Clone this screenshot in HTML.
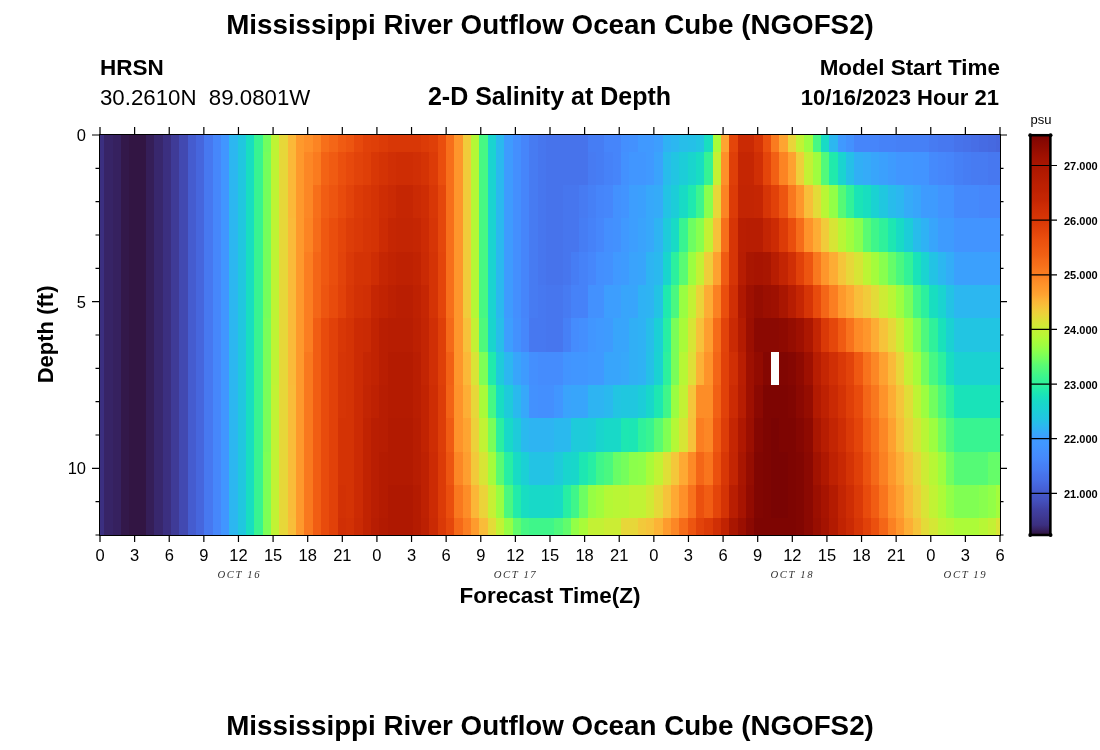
<!DOCTYPE html>
<html><head><meta charset="utf-8"><style>
html,body{margin:0;padding:0;background:#fff;}
svg{display:block;will-change:transform;}
text{font-family:"Liberation Sans",sans-serif;fill:#000;}
.b{font-weight:bold;}
.tl{font-size:16.5px;}
.cbl{font-size:11px;font-weight:bold;}
.dt{font-family:"Liberation Serif",serif;font-style:italic;font-size:10.7px;fill:#333;letter-spacing:1.6px;}
</style></head><body>
<svg width="1100" height="750" viewBox="0 0 1100 750">
<defs><clipPath id="cp"><rect x="100" y="135" width="900" height="400"/></clipPath></defs>
<g clip-path="url(#cp)"><g shape-rendering="crispEdges">
<rect x="100.00" y="135.00" width="4.57" height="17.07" fill="#3b2f80"/>
<rect x="104.17" y="135.00" width="8.73" height="17.07" fill="#372466"/>
<rect x="112.50" y="135.00" width="8.73" height="17.07" fill="#36215f"/>
<rect x="120.83" y="135.00" width="8.73" height="17.07" fill="#33184a"/>
<rect x="129.17" y="135.00" width="17.07" height="17.07" fill="#321543"/>
<rect x="145.83" y="135.00" width="8.73" height="17.07" fill="#351e58"/>
<rect x="154.17" y="135.00" width="8.73" height="17.07" fill="#38276d"/>
<rect x="162.50" y="135.00" width="8.73" height="17.07" fill="#3b2f80"/>
<rect x="170.83" y="135.00" width="8.73" height="17.07" fill="#3f3b97"/>
<rect x="179.17" y="135.00" width="8.73" height="17.07" fill="#4249b1"/>
<rect x="187.50" y="135.00" width="8.73" height="17.07" fill="#455ccf"/>
<rect x="195.83" y="135.00" width="8.73" height="17.07" fill="#4666dd"/>
<rect x="204.17" y="135.00" width="8.73" height="17.07" fill="#4778f0"/>
<rect x="212.50" y="135.00" width="8.73" height="17.07" fill="#4687fb"/>
<rect x="220.83" y="135.00" width="8.73" height="17.07" fill="#4196ff"/>
<rect x="229.17" y="135.00" width="8.73" height="17.07" fill="#2cb7f0"/>
<rect x="237.50" y="135.00" width="8.73" height="17.07" fill="#20c7df"/>
<rect x="245.83" y="135.00" width="8.73" height="17.07" fill="#18dec0"/>
<rect x="254.17" y="135.00" width="8.73" height="17.07" fill="#38f491"/>
<rect x="262.50" y="135.00" width="8.73" height="17.07" fill="#71fe5f"/>
<rect x="270.83" y="135.00" width="8.73" height="17.07" fill="#bef434"/>
<rect x="279.17" y="135.00" width="8.73" height="17.07" fill="#e7d739"/>
<rect x="287.50" y="135.00" width="8.73" height="17.07" fill="#fbb838"/>
<rect x="295.83" y="135.00" width="8.73" height="17.07" fill="#fe992c"/>
<rect x="304.17" y="135.00" width="8.73" height="17.07" fill="#fe9029"/>
<rect x="312.50" y="135.00" width="8.73" height="17.07" fill="#fc8423"/>
<rect x="320.83" y="135.00" width="8.73" height="17.07" fill="#f76f1a"/>
<rect x="329.17" y="135.00" width="8.73" height="17.07" fill="#f46617"/>
<rect x="337.50" y="135.00" width="8.73" height="17.07" fill="#f05b12"/>
<rect x="345.83" y="135.00" width="8.73" height="17.07" fill="#ed5510"/>
<rect x="354.17" y="135.00" width="8.73" height="17.07" fill="#e7490c"/>
<rect x="362.50" y="135.00" width="8.73" height="17.07" fill="#e14109"/>
<rect x="370.83" y="135.00" width="8.73" height="17.07" fill="#df3f08"/>
<rect x="379.17" y="135.00" width="8.73" height="17.07" fill="#dc3b07"/>
<rect x="387.50" y="135.00" width="33.73" height="17.07" fill="#d83706"/>
<rect x="420.83" y="135.00" width="8.73" height="17.07" fill="#dc3b07"/>
<rect x="429.17" y="135.00" width="8.73" height="17.07" fill="#df3f08"/>
<rect x="437.50" y="135.00" width="8.73" height="17.07" fill="#ea4e0d"/>
<rect x="445.83" y="135.00" width="8.73" height="17.07" fill="#f76f1a"/>
<rect x="454.17" y="135.00" width="8.73" height="17.07" fill="#fe962b"/>
<rect x="462.50" y="135.00" width="8.73" height="17.07" fill="#f1cb3a"/>
<rect x="470.83" y="135.00" width="8.73" height="17.07" fill="#b4f836"/>
<rect x="479.17" y="135.00" width="8.73" height="17.07" fill="#46f884"/>
<rect x="487.50" y="135.00" width="8.73" height="17.07" fill="#1ad4d0"/>
<rect x="495.83" y="135.00" width="8.73" height="17.07" fill="#2ab9ee"/>
<rect x="504.17" y="135.00" width="8.73" height="17.07" fill="#3e9bfe"/>
<rect x="512.50" y="135.00" width="8.73" height="17.07" fill="#448ffe"/>
<rect x="520.83" y="135.00" width="8.73" height="17.07" fill="#4685fa"/>
<rect x="529.17" y="135.00" width="8.73" height="17.07" fill="#477bf2"/>
<rect x="537.50" y="135.00" width="8.73" height="17.07" fill="#4776ee"/>
<rect x="545.83" y="135.00" width="42.07" height="17.07" fill="#4773eb"/>
<rect x="587.50" y="135.00" width="17.07" height="17.07" fill="#467df4"/>
<rect x="604.17" y="135.00" width="17.07" height="17.07" fill="#4685fa"/>
<rect x="620.83" y="135.00" width="8.73" height="17.07" fill="#448ffe"/>
<rect x="629.17" y="135.00" width="8.73" height="17.07" fill="#4391fe"/>
<rect x="637.50" y="135.00" width="17.07" height="17.07" fill="#4099ff"/>
<rect x="654.17" y="135.00" width="8.73" height="17.07" fill="#3d9efe"/>
<rect x="662.50" y="135.00" width="8.73" height="17.07" fill="#2fb2f4"/>
<rect x="670.83" y="135.00" width="8.73" height="17.07" fill="#2cb7f0"/>
<rect x="679.17" y="135.00" width="8.73" height="17.07" fill="#27bee9"/>
<rect x="687.50" y="135.00" width="8.73" height="17.07" fill="#25c0e7"/>
<rect x="695.83" y="135.00" width="8.73" height="17.07" fill="#22c5e2"/>
<rect x="704.17" y="135.00" width="8.73" height="17.07" fill="#18dec0"/>
<rect x="712.50" y="135.00" width="8.73" height="17.07" fill="#a7fc3a"/>
<rect x="720.83" y="135.00" width="8.73" height="17.07" fill="#fea431"/>
<rect x="729.17" y="135.00" width="8.73" height="17.07" fill="#e4450a"/>
<rect x="737.50" y="135.00" width="17.07" height="17.07" fill="#ca2a04"/>
<rect x="754.17" y="135.00" width="8.73" height="17.07" fill="#d63506"/>
<rect x="762.50" y="135.00" width="8.73" height="17.07" fill="#eb500e"/>
<rect x="770.83" y="135.00" width="8.73" height="17.07" fill="#fa7b1f"/>
<rect x="779.17" y="135.00" width="8.73" height="17.07" fill="#fea431"/>
<rect x="787.50" y="135.00" width="8.73" height="17.07" fill="#e9d539"/>
<rect x="795.83" y="135.00" width="8.73" height="17.07" fill="#c1f334"/>
<rect x="804.17" y="135.00" width="8.73" height="17.07" fill="#9cfe40"/>
<rect x="812.50" y="135.00" width="8.73" height="17.07" fill="#46f884"/>
<rect x="820.83" y="135.00" width="8.73" height="17.07" fill="#18dbc5"/>
<rect x="829.17" y="135.00" width="8.73" height="17.07" fill="#2cb7f0"/>
<rect x="837.50" y="135.00" width="8.73" height="17.07" fill="#4099ff"/>
<rect x="845.83" y="135.00" width="8.73" height="17.07" fill="#4391fe"/>
<rect x="854.17" y="135.00" width="25.40" height="17.07" fill="#4685fa"/>
<rect x="879.17" y="135.00" width="17.07" height="17.07" fill="#4682f8"/>
<rect x="895.83" y="135.00" width="33.73" height="17.07" fill="#4680f6"/>
<rect x="929.17" y="135.00" width="8.73" height="17.07" fill="#477bf2"/>
<rect x="937.50" y="135.00" width="17.07" height="17.07" fill="#4778f0"/>
<rect x="954.17" y="135.00" width="8.73" height="17.07" fill="#4773eb"/>
<rect x="962.50" y="135.00" width="8.73" height="17.07" fill="#4771e9"/>
<rect x="970.83" y="135.00" width="8.73" height="17.07" fill="#476ee6"/>
<rect x="979.17" y="135.00" width="8.73" height="17.07" fill="#466be3"/>
<rect x="987.50" y="135.00" width="8.73" height="17.07" fill="#4669e0"/>
<rect x="995.83" y="135.00" width="4.17" height="17.07" fill="#4666dd"/>
<rect x="100.00" y="151.67" width="4.57" height="33.73" fill="#3b2f80"/>
<rect x="104.17" y="151.67" width="8.73" height="33.73" fill="#372466"/>
<rect x="112.50" y="151.67" width="8.73" height="33.73" fill="#36215f"/>
<rect x="120.83" y="151.67" width="8.73" height="33.73" fill="#33184a"/>
<rect x="129.17" y="151.67" width="17.07" height="33.73" fill="#321543"/>
<rect x="145.83" y="151.67" width="8.73" height="33.73" fill="#351e58"/>
<rect x="154.17" y="151.67" width="8.73" height="33.73" fill="#38276d"/>
<rect x="162.50" y="151.67" width="8.73" height="33.73" fill="#3b2f80"/>
<rect x="170.83" y="151.67" width="8.73" height="33.73" fill="#3f3b97"/>
<rect x="179.17" y="151.67" width="8.73" height="33.73" fill="#4249b1"/>
<rect x="187.50" y="151.67" width="8.73" height="33.73" fill="#455ccf"/>
<rect x="195.83" y="151.67" width="8.73" height="33.73" fill="#4666dd"/>
<rect x="204.17" y="151.67" width="8.73" height="33.73" fill="#4778f0"/>
<rect x="212.50" y="151.67" width="8.73" height="33.73" fill="#4687fb"/>
<rect x="220.83" y="151.67" width="8.73" height="33.73" fill="#4196ff"/>
<rect x="229.17" y="151.67" width="8.73" height="33.73" fill="#2cb7f0"/>
<rect x="237.50" y="151.67" width="8.73" height="33.73" fill="#20c7df"/>
<rect x="245.83" y="151.67" width="8.73" height="33.73" fill="#18dec0"/>
<rect x="254.17" y="151.67" width="8.73" height="33.73" fill="#38f491"/>
<rect x="262.50" y="151.67" width="8.73" height="33.73" fill="#75fe5c"/>
<rect x="270.83" y="151.67" width="8.73" height="33.73" fill="#bef434"/>
<rect x="279.17" y="151.67" width="8.73" height="33.73" fill="#e7d739"/>
<rect x="287.50" y="151.67" width="8.73" height="33.73" fill="#fbb838"/>
<rect x="295.83" y="151.67" width="8.73" height="33.73" fill="#fe992c"/>
<rect x="304.17" y="151.67" width="8.73" height="33.73" fill="#fc8725"/>
<rect x="312.50" y="151.67" width="8.73" height="33.73" fill="#fa7b1f"/>
<rect x="320.83" y="151.67" width="8.73" height="33.73" fill="#f36315"/>
<rect x="329.17" y="151.67" width="8.73" height="33.73" fill="#f05b12"/>
<rect x="337.50" y="151.67" width="8.73" height="33.73" fill="#eb500e"/>
<rect x="345.83" y="151.67" width="8.73" height="33.73" fill="#e7490c"/>
<rect x="354.17" y="151.67" width="8.73" height="33.73" fill="#e2430a"/>
<rect x="362.50" y="151.67" width="8.73" height="33.73" fill="#df3f08"/>
<rect x="370.83" y="151.67" width="8.73" height="33.73" fill="#d83706"/>
<rect x="379.17" y="151.67" width="8.73" height="33.73" fill="#d43305"/>
<rect x="387.50" y="151.67" width="8.73" height="33.73" fill="#d02f05"/>
<rect x="395.83" y="151.67" width="17.07" height="33.73" fill="#ce2d04"/>
<rect x="412.50" y="151.67" width="8.73" height="33.73" fill="#d02f05"/>
<rect x="420.83" y="151.67" width="8.73" height="33.73" fill="#d43305"/>
<rect x="429.17" y="151.67" width="8.73" height="33.73" fill="#dc3b07"/>
<rect x="437.50" y="151.67" width="8.73" height="33.73" fill="#ea4e0d"/>
<rect x="445.83" y="151.67" width="8.73" height="33.73" fill="#f76f1a"/>
<rect x="454.17" y="151.67" width="8.73" height="33.73" fill="#fe962b"/>
<rect x="462.50" y="151.67" width="8.73" height="33.73" fill="#f1cb3a"/>
<rect x="470.83" y="151.67" width="8.73" height="33.73" fill="#b4f836"/>
<rect x="479.17" y="151.67" width="8.73" height="33.73" fill="#46f884"/>
<rect x="487.50" y="151.67" width="8.73" height="33.73" fill="#1ad4d0"/>
<rect x="495.83" y="151.67" width="8.73" height="33.73" fill="#2ab9ee"/>
<rect x="504.17" y="151.67" width="8.73" height="33.73" fill="#3e9bfe"/>
<rect x="512.50" y="151.67" width="8.73" height="33.73" fill="#448ffe"/>
<rect x="520.83" y="151.67" width="8.73" height="33.73" fill="#4685fa"/>
<rect x="529.17" y="151.67" width="8.73" height="33.73" fill="#477bf2"/>
<rect x="537.50" y="151.67" width="8.73" height="33.73" fill="#4776ee"/>
<rect x="545.83" y="151.67" width="42.07" height="33.73" fill="#4773eb"/>
<rect x="587.50" y="151.67" width="8.73" height="33.73" fill="#477bf2"/>
<rect x="595.83" y="151.67" width="8.73" height="33.73" fill="#467df4"/>
<rect x="604.17" y="151.67" width="8.73" height="33.73" fill="#4682f8"/>
<rect x="612.50" y="151.67" width="8.73" height="33.73" fill="#4685fa"/>
<rect x="620.83" y="151.67" width="8.73" height="33.73" fill="#4391fe"/>
<rect x="629.17" y="151.67" width="17.07" height="33.73" fill="#4196ff"/>
<rect x="645.83" y="151.67" width="8.73" height="33.73" fill="#4099ff"/>
<rect x="654.17" y="151.67" width="8.73" height="33.73" fill="#3aa3fc"/>
<rect x="662.50" y="151.67" width="8.73" height="33.73" fill="#28bceb"/>
<rect x="670.83" y="151.67" width="8.73" height="33.73" fill="#22c5e2"/>
<rect x="679.17" y="151.67" width="8.73" height="33.73" fill="#1ccdd8"/>
<rect x="687.50" y="151.67" width="8.73" height="33.73" fill="#19d5cd"/>
<rect x="695.83" y="151.67" width="8.73" height="33.73" fill="#18ddc2"/>
<rect x="704.17" y="151.67" width="8.73" height="33.73" fill="#35f394"/>
<rect x="712.50" y="151.67" width="8.73" height="33.73" fill="#c3f134"/>
<rect x="720.83" y="151.67" width="8.73" height="33.73" fill="#fe9029"/>
<rect x="729.17" y="151.67" width="8.73" height="33.73" fill="#df3f08"/>
<rect x="737.50" y="151.67" width="17.07" height="33.73" fill="#c52603"/>
<rect x="754.17" y="151.67" width="8.73" height="33.73" fill="#d02f05"/>
<rect x="762.50" y="151.67" width="8.73" height="33.73" fill="#e4450a"/>
<rect x="770.83" y="151.67" width="8.73" height="33.73" fill="#f26014"/>
<rect x="779.17" y="151.67" width="8.73" height="33.73" fill="#fc8423"/>
<rect x="787.50" y="151.67" width="8.73" height="33.73" fill="#fea130"/>
<rect x="795.83" y="151.67" width="8.73" height="33.73" fill="#eecf3a"/>
<rect x="804.17" y="151.67" width="8.73" height="33.73" fill="#c3f134"/>
<rect x="812.50" y="151.67" width="8.73" height="33.73" fill="#9ffd3f"/>
<rect x="820.83" y="151.67" width="8.73" height="33.73" fill="#52fa7a"/>
<rect x="829.17" y="151.67" width="8.73" height="33.73" fill="#20eaac"/>
<rect x="837.50" y="151.67" width="8.73" height="33.73" fill="#1ad4d0"/>
<rect x="845.83" y="151.67" width="8.73" height="33.73" fill="#25c0e7"/>
<rect x="854.17" y="151.67" width="8.73" height="33.73" fill="#31aff5"/>
<rect x="862.50" y="151.67" width="8.73" height="33.73" fill="#35abf8"/>
<rect x="870.83" y="151.67" width="8.73" height="33.73" fill="#38a5fb"/>
<rect x="879.17" y="151.67" width="8.73" height="33.73" fill="#3ba0fd"/>
<rect x="887.50" y="151.67" width="8.73" height="33.73" fill="#3e9bfe"/>
<rect x="895.83" y="151.67" width="17.07" height="33.73" fill="#4196ff"/>
<rect x="912.50" y="151.67" width="17.07" height="33.73" fill="#4294ff"/>
<rect x="929.17" y="151.67" width="8.73" height="33.73" fill="#458afc"/>
<rect x="937.50" y="151.67" width="8.73" height="33.73" fill="#4687fb"/>
<rect x="945.83" y="151.67" width="8.73" height="33.73" fill="#4685fa"/>
<rect x="954.17" y="151.67" width="8.73" height="33.73" fill="#4680f6"/>
<rect x="962.50" y="151.67" width="8.73" height="33.73" fill="#467df4"/>
<rect x="970.83" y="151.67" width="17.07" height="33.73" fill="#477bf2"/>
<rect x="987.50" y="151.67" width="12.50" height="33.73" fill="#4778f0"/>
<rect x="100.00" y="185.00" width="4.57" height="33.73" fill="#3b2f80"/>
<rect x="104.17" y="185.00" width="8.73" height="33.73" fill="#372466"/>
<rect x="112.50" y="185.00" width="8.73" height="33.73" fill="#36215f"/>
<rect x="120.83" y="185.00" width="8.73" height="33.73" fill="#33184a"/>
<rect x="129.17" y="185.00" width="17.07" height="33.73" fill="#321543"/>
<rect x="145.83" y="185.00" width="8.73" height="33.73" fill="#351e58"/>
<rect x="154.17" y="185.00" width="8.73" height="33.73" fill="#38276d"/>
<rect x="162.50" y="185.00" width="8.73" height="33.73" fill="#3b2f80"/>
<rect x="170.83" y="185.00" width="8.73" height="33.73" fill="#3f3b97"/>
<rect x="179.17" y="185.00" width="8.73" height="33.73" fill="#4249b1"/>
<rect x="187.50" y="185.00" width="8.73" height="33.73" fill="#455ccf"/>
<rect x="195.83" y="185.00" width="8.73" height="33.73" fill="#4666dd"/>
<rect x="204.17" y="185.00" width="8.73" height="33.73" fill="#4778f0"/>
<rect x="212.50" y="185.00" width="8.73" height="33.73" fill="#4687fb"/>
<rect x="220.83" y="185.00" width="8.73" height="33.73" fill="#4196ff"/>
<rect x="229.17" y="185.00" width="8.73" height="33.73" fill="#2cb7f0"/>
<rect x="237.50" y="185.00" width="8.73" height="33.73" fill="#20c7df"/>
<rect x="245.83" y="185.00" width="8.73" height="33.73" fill="#18dec0"/>
<rect x="254.17" y="185.00" width="8.73" height="33.73" fill="#38f491"/>
<rect x="262.50" y="185.00" width="8.73" height="33.73" fill="#75fe5c"/>
<rect x="270.83" y="185.00" width="8.73" height="33.73" fill="#bef434"/>
<rect x="279.17" y="185.00" width="8.73" height="33.73" fill="#e7d739"/>
<rect x="287.50" y="185.00" width="8.73" height="33.73" fill="#fbb838"/>
<rect x="295.83" y="185.00" width="8.73" height="33.73" fill="#fe992c"/>
<rect x="304.17" y="185.00" width="8.73" height="33.73" fill="#fc8725"/>
<rect x="312.50" y="185.00" width="8.73" height="33.73" fill="#f76f1a"/>
<rect x="320.83" y="185.00" width="8.73" height="33.73" fill="#f15d13"/>
<rect x="329.17" y="185.00" width="8.73" height="33.73" fill="#ed5510"/>
<rect x="337.50" y="185.00" width="8.73" height="33.73" fill="#e84b0c"/>
<rect x="345.83" y="185.00" width="8.73" height="33.73" fill="#e2430a"/>
<rect x="354.17" y="185.00" width="8.73" height="33.73" fill="#dc3b07"/>
<rect x="362.50" y="185.00" width="8.73" height="33.73" fill="#d83706"/>
<rect x="370.83" y="185.00" width="8.73" height="33.73" fill="#d43305"/>
<rect x="379.17" y="185.00" width="8.73" height="33.73" fill="#ce2d04"/>
<rect x="387.50" y="185.00" width="8.73" height="33.73" fill="#ca2a04"/>
<rect x="395.83" y="185.00" width="17.07" height="33.73" fill="#c52603"/>
<rect x="412.50" y="185.00" width="8.73" height="33.73" fill="#ca2a04"/>
<rect x="420.83" y="185.00" width="8.73" height="33.73" fill="#ce2d04"/>
<rect x="429.17" y="185.00" width="8.73" height="33.73" fill="#d83706"/>
<rect x="437.50" y="185.00" width="8.73" height="33.73" fill="#e5470b"/>
<rect x="445.83" y="185.00" width="8.73" height="33.73" fill="#f76f1a"/>
<rect x="454.17" y="185.00" width="8.73" height="33.73" fill="#fe962b"/>
<rect x="462.50" y="185.00" width="8.73" height="33.73" fill="#f1cb3a"/>
<rect x="470.83" y="185.00" width="8.73" height="33.73" fill="#b4f836"/>
<rect x="479.17" y="185.00" width="8.73" height="33.73" fill="#46f884"/>
<rect x="487.50" y="185.00" width="8.73" height="33.73" fill="#1ad4d0"/>
<rect x="495.83" y="185.00" width="8.73" height="33.73" fill="#2ab9ee"/>
<rect x="504.17" y="185.00" width="8.73" height="33.73" fill="#3e9bfe"/>
<rect x="512.50" y="185.00" width="8.73" height="33.73" fill="#448ffe"/>
<rect x="520.83" y="185.00" width="8.73" height="33.73" fill="#4685fa"/>
<rect x="529.17" y="185.00" width="8.73" height="33.73" fill="#477bf2"/>
<rect x="537.50" y="185.00" width="8.73" height="33.73" fill="#4776ee"/>
<rect x="545.83" y="185.00" width="17.07" height="33.73" fill="#4773eb"/>
<rect x="562.50" y="185.00" width="17.07" height="33.73" fill="#4776ee"/>
<rect x="579.17" y="185.00" width="8.73" height="33.73" fill="#477bf2"/>
<rect x="587.50" y="185.00" width="8.73" height="33.73" fill="#4680f6"/>
<rect x="595.83" y="185.00" width="8.73" height="33.73" fill="#4685fa"/>
<rect x="604.17" y="185.00" width="8.73" height="33.73" fill="#4687fb"/>
<rect x="612.50" y="185.00" width="8.73" height="33.73" fill="#4391fe"/>
<rect x="620.83" y="185.00" width="8.73" height="33.73" fill="#4294ff"/>
<rect x="629.17" y="185.00" width="8.73" height="33.73" fill="#3d9efe"/>
<rect x="637.50" y="185.00" width="8.73" height="33.73" fill="#3ba0fd"/>
<rect x="645.83" y="185.00" width="8.73" height="33.73" fill="#37a8fa"/>
<rect x="654.17" y="185.00" width="8.73" height="33.73" fill="#35abf8"/>
<rect x="662.50" y="185.00" width="8.73" height="33.73" fill="#23c3e4"/>
<rect x="670.83" y="185.00" width="8.73" height="33.73" fill="#1ccdd8"/>
<rect x="679.17" y="185.00" width="8.73" height="33.73" fill="#18dbc5"/>
<rect x="687.50" y="185.00" width="8.73" height="33.73" fill="#1fe9af"/>
<rect x="695.83" y="185.00" width="8.73" height="33.73" fill="#3cf58e"/>
<rect x="704.17" y="185.00" width="8.73" height="33.73" fill="#88ff4e"/>
<rect x="712.50" y="185.00" width="8.73" height="33.73" fill="#e7d739"/>
<rect x="720.83" y="185.00" width="8.73" height="33.73" fill="#fc8423"/>
<rect x="729.17" y="185.00" width="8.73" height="33.73" fill="#dc3b07"/>
<rect x="737.50" y="185.00" width="17.07" height="33.73" fill="#c32503"/>
<rect x="754.17" y="185.00" width="8.73" height="33.73" fill="#c52603"/>
<rect x="762.50" y="185.00" width="8.73" height="33.73" fill="#d63506"/>
<rect x="770.83" y="185.00" width="8.73" height="33.73" fill="#e14109"/>
<rect x="779.17" y="185.00" width="8.73" height="33.73" fill="#ed5510"/>
<rect x="787.50" y="185.00" width="8.73" height="33.73" fill="#f9781e"/>
<rect x="795.83" y="185.00" width="8.73" height="33.73" fill="#fe962b"/>
<rect x="804.17" y="185.00" width="8.73" height="33.73" fill="#f8be39"/>
<rect x="812.50" y="185.00" width="8.73" height="33.73" fill="#e3db38"/>
<rect x="820.83" y="185.00" width="8.73" height="33.73" fill="#b9f635"/>
<rect x="829.17" y="185.00" width="8.73" height="33.73" fill="#92ff47"/>
<rect x="837.50" y="185.00" width="8.73" height="33.73" fill="#55fa76"/>
<rect x="845.83" y="185.00" width="8.73" height="33.73" fill="#32f298"/>
<rect x="854.17" y="185.00" width="8.73" height="33.73" fill="#1ae4b6"/>
<rect x="862.50" y="185.00" width="8.73" height="33.73" fill="#18dec0"/>
<rect x="870.83" y="185.00" width="8.73" height="33.73" fill="#1ad2d2"/>
<rect x="879.17" y="185.00" width="8.73" height="33.73" fill="#20c7df"/>
<rect x="887.50" y="185.00" width="8.73" height="33.73" fill="#28bceb"/>
<rect x="895.83" y="185.00" width="8.73" height="33.73" fill="#2cb7f0"/>
<rect x="904.17" y="185.00" width="8.73" height="33.73" fill="#35abf8"/>
<rect x="912.50" y="185.00" width="8.73" height="33.73" fill="#38a5fb"/>
<rect x="920.83" y="185.00" width="17.07" height="33.73" fill="#3e9bfe"/>
<rect x="937.50" y="185.00" width="17.07" height="33.73" fill="#4294ff"/>
<rect x="954.17" y="185.00" width="25.40" height="33.73" fill="#458afc"/>
<rect x="979.17" y="185.00" width="20.83" height="33.73" fill="#4687fb"/>
<rect x="100.00" y="218.33" width="4.57" height="33.73" fill="#3b2f80"/>
<rect x="104.17" y="218.33" width="8.73" height="33.73" fill="#372466"/>
<rect x="112.50" y="218.33" width="8.73" height="33.73" fill="#36215f"/>
<rect x="120.83" y="218.33" width="8.73" height="33.73" fill="#33184a"/>
<rect x="129.17" y="218.33" width="17.07" height="33.73" fill="#321543"/>
<rect x="145.83" y="218.33" width="8.73" height="33.73" fill="#351e58"/>
<rect x="154.17" y="218.33" width="8.73" height="33.73" fill="#38276d"/>
<rect x="162.50" y="218.33" width="8.73" height="33.73" fill="#3b2f80"/>
<rect x="170.83" y="218.33" width="8.73" height="33.73" fill="#3f3b97"/>
<rect x="179.17" y="218.33" width="8.73" height="33.73" fill="#4249b1"/>
<rect x="187.50" y="218.33" width="8.73" height="33.73" fill="#455ccf"/>
<rect x="195.83" y="218.33" width="8.73" height="33.73" fill="#4666dd"/>
<rect x="204.17" y="218.33" width="8.73" height="33.73" fill="#4778f0"/>
<rect x="212.50" y="218.33" width="8.73" height="33.73" fill="#4687fb"/>
<rect x="220.83" y="218.33" width="8.73" height="33.73" fill="#4196ff"/>
<rect x="229.17" y="218.33" width="8.73" height="33.73" fill="#2cb7f0"/>
<rect x="237.50" y="218.33" width="8.73" height="33.73" fill="#20c7df"/>
<rect x="245.83" y="218.33" width="8.73" height="33.73" fill="#18dec0"/>
<rect x="254.17" y="218.33" width="8.73" height="33.73" fill="#38f491"/>
<rect x="262.50" y="218.33" width="8.73" height="33.73" fill="#75fe5c"/>
<rect x="270.83" y="218.33" width="8.73" height="33.73" fill="#bef434"/>
<rect x="279.17" y="218.33" width="8.73" height="33.73" fill="#e7d739"/>
<rect x="287.50" y="218.33" width="8.73" height="33.73" fill="#faba39"/>
<rect x="295.83" y="218.33" width="8.73" height="33.73" fill="#fe992c"/>
<rect x="304.17" y="218.33" width="8.73" height="33.73" fill="#fc8423"/>
<rect x="312.50" y="218.33" width="8.73" height="33.73" fill="#f66c19"/>
<rect x="320.83" y="218.33" width="8.73" height="33.73" fill="#ef5811"/>
<rect x="329.17" y="218.33" width="8.73" height="33.73" fill="#ea4e0d"/>
<rect x="337.50" y="218.33" width="8.73" height="33.73" fill="#e4450a"/>
<rect x="345.83" y="218.33" width="8.73" height="33.73" fill="#dd3d08"/>
<rect x="354.17" y="218.33" width="8.73" height="33.73" fill="#da3907"/>
<rect x="362.50" y="218.33" width="8.73" height="33.73" fill="#d63506"/>
<rect x="370.83" y="218.33" width="8.73" height="33.73" fill="#d43305"/>
<rect x="379.17" y="218.33" width="8.73" height="33.73" fill="#cc2b04"/>
<rect x="387.50" y="218.33" width="8.73" height="33.73" fill="#c52603"/>
<rect x="395.83" y="218.33" width="17.07" height="33.73" fill="#c32503"/>
<rect x="412.50" y="218.33" width="8.73" height="33.73" fill="#c52603"/>
<rect x="420.83" y="218.33" width="8.73" height="33.73" fill="#cc2b04"/>
<rect x="429.17" y="218.33" width="8.73" height="33.73" fill="#d63506"/>
<rect x="437.50" y="218.33" width="8.73" height="33.73" fill="#e5470b"/>
<rect x="445.83" y="218.33" width="8.73" height="33.73" fill="#f76f1a"/>
<rect x="454.17" y="218.33" width="8.73" height="33.73" fill="#fe962b"/>
<rect x="462.50" y="218.33" width="8.73" height="33.73" fill="#f1cb3a"/>
<rect x="470.83" y="218.33" width="8.73" height="33.73" fill="#b4f836"/>
<rect x="479.17" y="218.33" width="8.73" height="33.73" fill="#46f884"/>
<rect x="487.50" y="218.33" width="8.73" height="33.73" fill="#1ad4d0"/>
<rect x="495.83" y="218.33" width="8.73" height="33.73" fill="#2ab9ee"/>
<rect x="504.17" y="218.33" width="8.73" height="33.73" fill="#3e9bfe"/>
<rect x="512.50" y="218.33" width="8.73" height="33.73" fill="#448ffe"/>
<rect x="520.83" y="218.33" width="8.73" height="33.73" fill="#4685fa"/>
<rect x="529.17" y="218.33" width="8.73" height="33.73" fill="#477bf2"/>
<rect x="537.50" y="218.33" width="8.73" height="33.73" fill="#4776ee"/>
<rect x="545.83" y="218.33" width="17.07" height="33.73" fill="#4773eb"/>
<rect x="562.50" y="218.33" width="17.07" height="33.73" fill="#4776ee"/>
<rect x="579.17" y="218.33" width="8.73" height="33.73" fill="#467df4"/>
<rect x="587.50" y="218.33" width="8.73" height="33.73" fill="#4682f8"/>
<rect x="595.83" y="218.33" width="8.73" height="33.73" fill="#4687fb"/>
<rect x="604.17" y="218.33" width="8.73" height="33.73" fill="#448ffe"/>
<rect x="612.50" y="218.33" width="8.73" height="33.73" fill="#4391fe"/>
<rect x="620.83" y="218.33" width="8.73" height="33.73" fill="#4099ff"/>
<rect x="629.17" y="218.33" width="8.73" height="33.73" fill="#3d9efe"/>
<rect x="637.50" y="218.33" width="8.73" height="33.73" fill="#3aa3fc"/>
<rect x="645.83" y="218.33" width="8.73" height="33.73" fill="#37a8fa"/>
<rect x="654.17" y="218.33" width="8.73" height="33.73" fill="#2eb4f2"/>
<rect x="662.50" y="218.33" width="8.73" height="33.73" fill="#1ecbda"/>
<rect x="670.83" y="218.33" width="8.73" height="33.73" fill="#18dbc5"/>
<rect x="679.17" y="218.33" width="8.73" height="33.73" fill="#38f491"/>
<rect x="687.50" y="218.33" width="8.73" height="33.73" fill="#6dfe62"/>
<rect x="695.83" y="218.33" width="8.73" height="33.73" fill="#88ff4e"/>
<rect x="704.17" y="218.33" width="8.73" height="33.73" fill="#c3f134"/>
<rect x="712.50" y="218.33" width="8.73" height="33.73" fill="#f7c13a"/>
<rect x="720.83" y="218.33" width="8.73" height="33.73" fill="#f76f1a"/>
<rect x="729.17" y="218.33" width="8.73" height="33.73" fill="#d63506"/>
<rect x="737.50" y="218.33" width="8.73" height="33.73" fill="#b91e02"/>
<rect x="745.83" y="218.33" width="17.07" height="33.73" fill="#b71d02"/>
<rect x="762.50" y="218.33" width="8.73" height="33.73" fill="#c32503"/>
<rect x="770.83" y="218.33" width="8.73" height="33.73" fill="#cc2b04"/>
<rect x="779.17" y="218.33" width="8.73" height="33.73" fill="#dc3b07"/>
<rect x="787.50" y="218.33" width="8.73" height="33.73" fill="#ea4e0d"/>
<rect x="795.83" y="218.33" width="8.73" height="33.73" fill="#f66c19"/>
<rect x="804.17" y="218.33" width="8.73" height="33.73" fill="#fe932a"/>
<rect x="812.50" y="218.33" width="8.73" height="33.73" fill="#fdac34"/>
<rect x="820.83" y="218.33" width="8.73" height="33.73" fill="#f1cb3a"/>
<rect x="829.17" y="218.33" width="8.73" height="33.73" fill="#d7e535"/>
<rect x="837.50" y="218.33" width="8.73" height="33.73" fill="#b9f635"/>
<rect x="845.83" y="218.33" width="8.73" height="33.73" fill="#a1fd3d"/>
<rect x="854.17" y="218.33" width="8.73" height="33.73" fill="#88ff4e"/>
<rect x="862.50" y="218.33" width="8.73" height="33.73" fill="#59fb73"/>
<rect x="870.83" y="218.33" width="8.73" height="33.73" fill="#3ff68a"/>
<rect x="879.17" y="218.33" width="8.73" height="33.73" fill="#2ff19b"/>
<rect x="887.50" y="218.33" width="8.73" height="33.73" fill="#1de7b2"/>
<rect x="895.83" y="218.33" width="8.73" height="33.73" fill="#18dbc5"/>
<rect x="904.17" y="218.33" width="8.73" height="33.73" fill="#1ccdd8"/>
<rect x="912.50" y="218.33" width="8.73" height="33.73" fill="#28bceb"/>
<rect x="920.83" y="218.33" width="8.73" height="33.73" fill="#2fb2f4"/>
<rect x="929.17" y="218.33" width="8.73" height="33.73" fill="#38a5fb"/>
<rect x="937.50" y="218.33" width="17.07" height="33.73" fill="#3e9bfe"/>
<rect x="954.17" y="218.33" width="45.83" height="33.73" fill="#4294ff"/>
<rect x="100.00" y="251.67" width="4.57" height="33.73" fill="#3b2f80"/>
<rect x="104.17" y="251.67" width="8.73" height="33.73" fill="#372466"/>
<rect x="112.50" y="251.67" width="8.73" height="33.73" fill="#36215f"/>
<rect x="120.83" y="251.67" width="8.73" height="33.73" fill="#33184a"/>
<rect x="129.17" y="251.67" width="17.07" height="33.73" fill="#321543"/>
<rect x="145.83" y="251.67" width="8.73" height="33.73" fill="#351e58"/>
<rect x="154.17" y="251.67" width="8.73" height="33.73" fill="#38276d"/>
<rect x="162.50" y="251.67" width="8.73" height="33.73" fill="#3b2f80"/>
<rect x="170.83" y="251.67" width="8.73" height="33.73" fill="#3f3b97"/>
<rect x="179.17" y="251.67" width="8.73" height="33.73" fill="#4249b1"/>
<rect x="187.50" y="251.67" width="8.73" height="33.73" fill="#455ccf"/>
<rect x="195.83" y="251.67" width="8.73" height="33.73" fill="#4666dd"/>
<rect x="204.17" y="251.67" width="8.73" height="33.73" fill="#4778f0"/>
<rect x="212.50" y="251.67" width="8.73" height="33.73" fill="#4687fb"/>
<rect x="220.83" y="251.67" width="8.73" height="33.73" fill="#4196ff"/>
<rect x="229.17" y="251.67" width="8.73" height="33.73" fill="#2cb7f0"/>
<rect x="237.50" y="251.67" width="8.73" height="33.73" fill="#20c7df"/>
<rect x="245.83" y="251.67" width="8.73" height="33.73" fill="#18dec0"/>
<rect x="254.17" y="251.67" width="8.73" height="33.73" fill="#38f491"/>
<rect x="262.50" y="251.67" width="8.73" height="33.73" fill="#75fe5c"/>
<rect x="270.83" y="251.67" width="8.73" height="33.73" fill="#bef434"/>
<rect x="279.17" y="251.67" width="8.73" height="33.73" fill="#e7d739"/>
<rect x="287.50" y="251.67" width="8.73" height="33.73" fill="#faba39"/>
<rect x="295.83" y="251.67" width="8.73" height="33.73" fill="#fe992c"/>
<rect x="304.17" y="251.67" width="8.73" height="33.73" fill="#fb7e21"/>
<rect x="312.50" y="251.67" width="8.73" height="33.73" fill="#f46617"/>
<rect x="320.83" y="251.67" width="8.73" height="33.73" fill="#ef5811"/>
<rect x="329.17" y="251.67" width="8.73" height="33.73" fill="#ea4e0d"/>
<rect x="337.50" y="251.67" width="8.73" height="33.73" fill="#e2430a"/>
<rect x="345.83" y="251.67" width="8.73" height="33.73" fill="#da3907"/>
<rect x="354.17" y="251.67" width="17.07" height="33.73" fill="#d43305"/>
<rect x="370.83" y="251.67" width="8.73" height="33.73" fill="#ce2d04"/>
<rect x="379.17" y="251.67" width="8.73" height="33.73" fill="#c52603"/>
<rect x="387.50" y="251.67" width="8.73" height="33.73" fill="#c12302"/>
<rect x="395.83" y="251.67" width="17.07" height="33.73" fill="#be2102"/>
<rect x="412.50" y="251.67" width="8.73" height="33.73" fill="#c12302"/>
<rect x="420.83" y="251.67" width="8.73" height="33.73" fill="#ca2a04"/>
<rect x="429.17" y="251.67" width="8.73" height="33.73" fill="#d43305"/>
<rect x="437.50" y="251.67" width="8.73" height="33.73" fill="#e4450a"/>
<rect x="445.83" y="251.67" width="8.73" height="33.73" fill="#f76f1a"/>
<rect x="454.17" y="251.67" width="8.73" height="33.73" fill="#fe962b"/>
<rect x="462.50" y="251.67" width="8.73" height="33.73" fill="#f1cb3a"/>
<rect x="470.83" y="251.67" width="8.73" height="33.73" fill="#b4f836"/>
<rect x="479.17" y="251.67" width="8.73" height="33.73" fill="#46f884"/>
<rect x="487.50" y="251.67" width="8.73" height="33.73" fill="#1ad4d0"/>
<rect x="495.83" y="251.67" width="8.73" height="33.73" fill="#2ab9ee"/>
<rect x="504.17" y="251.67" width="8.73" height="33.73" fill="#3e9bfe"/>
<rect x="512.50" y="251.67" width="8.73" height="33.73" fill="#448ffe"/>
<rect x="520.83" y="251.67" width="8.73" height="33.73" fill="#4685fa"/>
<rect x="529.17" y="251.67" width="8.73" height="33.73" fill="#477bf2"/>
<rect x="537.50" y="251.67" width="8.73" height="33.73" fill="#4776ee"/>
<rect x="545.83" y="251.67" width="17.07" height="33.73" fill="#4773eb"/>
<rect x="562.50" y="251.67" width="8.73" height="33.73" fill="#4776ee"/>
<rect x="570.83" y="251.67" width="8.73" height="33.73" fill="#467df4"/>
<rect x="579.17" y="251.67" width="8.73" height="33.73" fill="#4682f8"/>
<rect x="587.50" y="251.67" width="8.73" height="33.73" fill="#4687fb"/>
<rect x="595.83" y="251.67" width="8.73" height="33.73" fill="#448ffe"/>
<rect x="604.17" y="251.67" width="8.73" height="33.73" fill="#4391fe"/>
<rect x="612.50" y="251.67" width="8.73" height="33.73" fill="#4099ff"/>
<rect x="620.83" y="251.67" width="8.73" height="33.73" fill="#3e9bfe"/>
<rect x="629.17" y="251.67" width="8.73" height="33.73" fill="#3aa3fc"/>
<rect x="637.50" y="251.67" width="8.73" height="33.73" fill="#38a5fb"/>
<rect x="645.83" y="251.67" width="8.73" height="33.73" fill="#2eb4f2"/>
<rect x="654.17" y="251.67" width="8.73" height="33.73" fill="#2ab9ee"/>
<rect x="662.50" y="251.67" width="8.73" height="33.73" fill="#19d5cd"/>
<rect x="670.83" y="251.67" width="8.73" height="33.73" fill="#2cf09e"/>
<rect x="679.17" y="251.67" width="8.73" height="33.73" fill="#59fb73"/>
<rect x="687.50" y="251.67" width="8.73" height="33.73" fill="#9cfe40"/>
<rect x="695.83" y="251.67" width="8.73" height="33.73" fill="#c3f134"/>
<rect x="704.17" y="251.67" width="8.73" height="33.73" fill="#efcd3a"/>
<rect x="712.50" y="251.67" width="8.73" height="33.73" fill="#fea130"/>
<rect x="720.83" y="251.67" width="8.73" height="33.73" fill="#f05b12"/>
<rect x="729.17" y="251.67" width="8.73" height="33.73" fill="#d63506"/>
<rect x="737.50" y="251.67" width="8.73" height="33.73" fill="#b71d02"/>
<rect x="745.83" y="251.67" width="8.73" height="33.73" fill="#a91601"/>
<rect x="754.17" y="251.67" width="8.73" height="33.73" fill="#a71401"/>
<rect x="762.50" y="251.67" width="8.73" height="33.73" fill="#a91601"/>
<rect x="770.83" y="251.67" width="8.73" height="33.73" fill="#b71d02"/>
<rect x="779.17" y="251.67" width="8.73" height="33.73" fill="#c32503"/>
<rect x="787.50" y="251.67" width="8.73" height="33.73" fill="#d02f05"/>
<rect x="795.83" y="251.67" width="8.73" height="33.73" fill="#e14109"/>
<rect x="804.17" y="251.67" width="8.73" height="33.73" fill="#ed5510"/>
<rect x="812.50" y="251.67" width="8.73" height="33.73" fill="#f9781e"/>
<rect x="820.83" y="251.67" width="8.73" height="33.73" fill="#fe962b"/>
<rect x="829.17" y="251.67" width="8.73" height="33.73" fill="#fdac34"/>
<rect x="837.50" y="251.67" width="8.73" height="33.73" fill="#f5c53a"/>
<rect x="845.83" y="251.67" width="8.73" height="33.73" fill="#e7d739"/>
<rect x="854.17" y="251.67" width="8.73" height="33.73" fill="#d7e535"/>
<rect x="862.50" y="251.67" width="8.73" height="33.73" fill="#bcf534"/>
<rect x="870.83" y="251.67" width="8.73" height="33.73" fill="#a4fc3c"/>
<rect x="879.17" y="251.67" width="8.73" height="33.73" fill="#88ff4e"/>
<rect x="887.50" y="251.67" width="8.73" height="33.73" fill="#65fd69"/>
<rect x="895.83" y="251.67" width="8.73" height="33.73" fill="#4af880"/>
<rect x="904.17" y="251.67" width="8.73" height="33.73" fill="#32f298"/>
<rect x="912.50" y="251.67" width="8.73" height="33.73" fill="#19e3b9"/>
<rect x="920.83" y="251.67" width="8.73" height="33.73" fill="#1ad4d0"/>
<rect x="929.17" y="251.67" width="8.73" height="33.73" fill="#23c3e4"/>
<rect x="937.50" y="251.67" width="8.73" height="33.73" fill="#2cb7f0"/>
<rect x="945.83" y="251.67" width="8.73" height="33.73" fill="#33adf7"/>
<rect x="954.17" y="251.67" width="45.83" height="33.73" fill="#3ba0fd"/>
<rect x="100.00" y="285.00" width="4.57" height="33.73" fill="#3b2f80"/>
<rect x="104.17" y="285.00" width="8.73" height="33.73" fill="#372466"/>
<rect x="112.50" y="285.00" width="8.73" height="33.73" fill="#36215f"/>
<rect x="120.83" y="285.00" width="8.73" height="33.73" fill="#33184a"/>
<rect x="129.17" y="285.00" width="17.07" height="33.73" fill="#321543"/>
<rect x="145.83" y="285.00" width="8.73" height="33.73" fill="#351e58"/>
<rect x="154.17" y="285.00" width="8.73" height="33.73" fill="#38276d"/>
<rect x="162.50" y="285.00" width="8.73" height="33.73" fill="#3b2f80"/>
<rect x="170.83" y="285.00" width="8.73" height="33.73" fill="#3f3b97"/>
<rect x="179.17" y="285.00" width="8.73" height="33.73" fill="#4249b1"/>
<rect x="187.50" y="285.00" width="8.73" height="33.73" fill="#455ccf"/>
<rect x="195.83" y="285.00" width="8.73" height="33.73" fill="#4666dd"/>
<rect x="204.17" y="285.00" width="8.73" height="33.73" fill="#4778f0"/>
<rect x="212.50" y="285.00" width="8.73" height="33.73" fill="#4687fb"/>
<rect x="220.83" y="285.00" width="8.73" height="33.73" fill="#4196ff"/>
<rect x="229.17" y="285.00" width="8.73" height="33.73" fill="#2cb7f0"/>
<rect x="237.50" y="285.00" width="8.73" height="33.73" fill="#20c7df"/>
<rect x="245.83" y="285.00" width="8.73" height="33.73" fill="#18dec0"/>
<rect x="254.17" y="285.00" width="8.73" height="33.73" fill="#38f491"/>
<rect x="262.50" y="285.00" width="8.73" height="33.73" fill="#75fe5c"/>
<rect x="270.83" y="285.00" width="8.73" height="33.73" fill="#bef434"/>
<rect x="279.17" y="285.00" width="8.73" height="33.73" fill="#e7d739"/>
<rect x="287.50" y="285.00" width="8.73" height="33.73" fill="#faba39"/>
<rect x="295.83" y="285.00" width="8.73" height="33.73" fill="#fe992c"/>
<rect x="304.17" y="285.00" width="8.73" height="33.73" fill="#fb7e21"/>
<rect x="312.50" y="285.00" width="8.73" height="33.73" fill="#f46617"/>
<rect x="320.83" y="285.00" width="8.73" height="33.73" fill="#ed5510"/>
<rect x="329.17" y="285.00" width="8.73" height="33.73" fill="#e84b0c"/>
<rect x="337.50" y="285.00" width="8.73" height="33.73" fill="#e14109"/>
<rect x="345.83" y="285.00" width="8.73" height="33.73" fill="#d83706"/>
<rect x="354.17" y="285.00" width="8.73" height="33.73" fill="#d23105"/>
<rect x="362.50" y="285.00" width="8.73" height="33.73" fill="#d02f05"/>
<rect x="370.83" y="285.00" width="8.73" height="33.73" fill="#c52603"/>
<rect x="379.17" y="285.00" width="8.73" height="33.73" fill="#c12302"/>
<rect x="387.50" y="285.00" width="8.73" height="33.73" fill="#bc2002"/>
<rect x="395.83" y="285.00" width="17.07" height="33.73" fill="#b91e02"/>
<rect x="412.50" y="285.00" width="8.73" height="33.73" fill="#be2102"/>
<rect x="420.83" y="285.00" width="8.73" height="33.73" fill="#c52603"/>
<rect x="429.17" y="285.00" width="8.73" height="33.73" fill="#d43305"/>
<rect x="437.50" y="285.00" width="8.73" height="33.73" fill="#e4450a"/>
<rect x="445.83" y="285.00" width="8.73" height="33.73" fill="#f76f1a"/>
<rect x="454.17" y="285.00" width="8.73" height="33.73" fill="#fe962b"/>
<rect x="462.50" y="285.00" width="8.73" height="33.73" fill="#f1cb3a"/>
<rect x="470.83" y="285.00" width="8.73" height="33.73" fill="#b4f836"/>
<rect x="479.17" y="285.00" width="8.73" height="33.73" fill="#46f884"/>
<rect x="487.50" y="285.00" width="8.73" height="33.73" fill="#1ad4d0"/>
<rect x="495.83" y="285.00" width="8.73" height="33.73" fill="#2ab9ee"/>
<rect x="504.17" y="285.00" width="8.73" height="33.73" fill="#3e9bfe"/>
<rect x="512.50" y="285.00" width="8.73" height="33.73" fill="#448ffe"/>
<rect x="520.83" y="285.00" width="8.73" height="33.73" fill="#4685fa"/>
<rect x="529.17" y="285.00" width="8.73" height="33.73" fill="#477bf2"/>
<rect x="537.50" y="285.00" width="8.73" height="33.73" fill="#4778f0"/>
<rect x="545.83" y="285.00" width="17.07" height="33.73" fill="#4776ee"/>
<rect x="562.50" y="285.00" width="8.73" height="33.73" fill="#477bf2"/>
<rect x="570.83" y="285.00" width="17.07" height="33.73" fill="#4682f8"/>
<rect x="587.50" y="285.00" width="17.07" height="33.73" fill="#4391fe"/>
<rect x="604.17" y="285.00" width="17.07" height="33.73" fill="#3d9efe"/>
<rect x="620.83" y="285.00" width="17.07" height="33.73" fill="#38a5fb"/>
<rect x="637.50" y="285.00" width="8.73" height="33.73" fill="#2fb2f4"/>
<rect x="645.83" y="285.00" width="8.73" height="33.73" fill="#2eb4f2"/>
<rect x="654.17" y="285.00" width="8.73" height="33.73" fill="#23c3e4"/>
<rect x="662.50" y="285.00" width="8.73" height="33.73" fill="#1fe9af"/>
<rect x="670.83" y="285.00" width="8.73" height="33.73" fill="#4af880"/>
<rect x="679.17" y="285.00" width="8.73" height="33.73" fill="#99fe42"/>
<rect x="687.50" y="285.00" width="8.73" height="33.73" fill="#c3f134"/>
<rect x="695.83" y="285.00" width="8.73" height="33.73" fill="#ebd339"/>
<rect x="704.17" y="285.00" width="8.73" height="33.73" fill="#fdac34"/>
<rect x="712.50" y="285.00" width="8.73" height="33.73" fill="#fb8122"/>
<rect x="720.83" y="285.00" width="8.73" height="33.73" fill="#ea4e0d"/>
<rect x="729.17" y="285.00" width="8.73" height="33.73" fill="#d02f05"/>
<rect x="737.50" y="285.00" width="8.73" height="33.73" fill="#af1801"/>
<rect x="745.83" y="285.00" width="8.73" height="33.73" fill="#9e1001"/>
<rect x="754.17" y="285.00" width="8.73" height="33.73" fill="#950d01"/>
<rect x="762.50" y="285.00" width="8.73" height="33.73" fill="#9b0f01"/>
<rect x="770.83" y="285.00" width="8.73" height="33.73" fill="#9e1001"/>
<rect x="779.17" y="285.00" width="8.73" height="33.73" fill="#a91601"/>
<rect x="787.50" y="285.00" width="8.73" height="33.73" fill="#b71d02"/>
<rect x="795.83" y="285.00" width="8.73" height="33.73" fill="#c52603"/>
<rect x="804.17" y="285.00" width="8.73" height="33.73" fill="#d63506"/>
<rect x="812.50" y="285.00" width="8.73" height="33.73" fill="#e84b0c"/>
<rect x="820.83" y="285.00" width="8.73" height="33.73" fill="#f46617"/>
<rect x="829.17" y="285.00" width="8.73" height="33.73" fill="#fb7e21"/>
<rect x="837.50" y="285.00" width="8.73" height="33.73" fill="#fe992c"/>
<rect x="845.83" y="285.00" width="8.73" height="33.73" fill="#fea933"/>
<rect x="854.17" y="285.00" width="8.73" height="33.73" fill="#f8be39"/>
<rect x="862.50" y="285.00" width="8.73" height="33.73" fill="#f1cb3a"/>
<rect x="870.83" y="285.00" width="8.73" height="33.73" fill="#e3db38"/>
<rect x="879.17" y="285.00" width="8.73" height="33.73" fill="#cdec34"/>
<rect x="887.50" y="285.00" width="8.73" height="33.73" fill="#b9f635"/>
<rect x="895.83" y="285.00" width="8.73" height="33.73" fill="#9cfe40"/>
<rect x="904.17" y="285.00" width="8.73" height="33.73" fill="#79fe59"/>
<rect x="912.50" y="285.00" width="8.73" height="33.73" fill="#46f884"/>
<rect x="920.83" y="285.00" width="8.73" height="33.73" fill="#2cf09e"/>
<rect x="929.17" y="285.00" width="8.73" height="33.73" fill="#18dec0"/>
<rect x="937.50" y="285.00" width="8.73" height="33.73" fill="#1ad4d0"/>
<rect x="945.83" y="285.00" width="8.73" height="33.73" fill="#23c3e4"/>
<rect x="954.17" y="285.00" width="45.83" height="33.73" fill="#2cb7f0"/>
<rect x="100.00" y="318.33" width="4.57" height="33.73" fill="#3b2f80"/>
<rect x="104.17" y="318.33" width="8.73" height="33.73" fill="#372466"/>
<rect x="112.50" y="318.33" width="8.73" height="33.73" fill="#36215f"/>
<rect x="120.83" y="318.33" width="8.73" height="33.73" fill="#33184a"/>
<rect x="129.17" y="318.33" width="17.07" height="33.73" fill="#321543"/>
<rect x="145.83" y="318.33" width="8.73" height="33.73" fill="#351e58"/>
<rect x="154.17" y="318.33" width="8.73" height="33.73" fill="#38276d"/>
<rect x="162.50" y="318.33" width="8.73" height="33.73" fill="#3b2f80"/>
<rect x="170.83" y="318.33" width="8.73" height="33.73" fill="#3f3b97"/>
<rect x="179.17" y="318.33" width="8.73" height="33.73" fill="#4249b1"/>
<rect x="187.50" y="318.33" width="8.73" height="33.73" fill="#455ccf"/>
<rect x="195.83" y="318.33" width="8.73" height="33.73" fill="#4666dd"/>
<rect x="204.17" y="318.33" width="8.73" height="33.73" fill="#4778f0"/>
<rect x="212.50" y="318.33" width="8.73" height="33.73" fill="#4687fb"/>
<rect x="220.83" y="318.33" width="8.73" height="33.73" fill="#4196ff"/>
<rect x="229.17" y="318.33" width="8.73" height="33.73" fill="#2cb7f0"/>
<rect x="237.50" y="318.33" width="8.73" height="33.73" fill="#20c7df"/>
<rect x="245.83" y="318.33" width="8.73" height="33.73" fill="#18dec0"/>
<rect x="254.17" y="318.33" width="8.73" height="33.73" fill="#38f491"/>
<rect x="262.50" y="318.33" width="8.73" height="33.73" fill="#79fe59"/>
<rect x="270.83" y="318.33" width="8.73" height="33.73" fill="#bef434"/>
<rect x="279.17" y="318.33" width="8.73" height="33.73" fill="#e7d739"/>
<rect x="287.50" y="318.33" width="8.73" height="33.73" fill="#faba39"/>
<rect x="295.83" y="318.33" width="8.73" height="33.73" fill="#fe992c"/>
<rect x="304.17" y="318.33" width="8.73" height="33.73" fill="#fb7e21"/>
<rect x="312.50" y="318.33" width="8.73" height="33.73" fill="#f15d13"/>
<rect x="320.83" y="318.33" width="8.73" height="33.73" fill="#e84b0c"/>
<rect x="329.17" y="318.33" width="8.73" height="33.73" fill="#e14109"/>
<rect x="337.50" y="318.33" width="8.73" height="33.73" fill="#d83706"/>
<rect x="345.83" y="318.33" width="8.73" height="33.73" fill="#d43305"/>
<rect x="354.17" y="318.33" width="8.73" height="33.73" fill="#cc2b04"/>
<rect x="362.50" y="318.33" width="8.73" height="33.73" fill="#ca2a04"/>
<rect x="370.83" y="318.33" width="8.73" height="33.73" fill="#c12302"/>
<rect x="379.17" y="318.33" width="8.73" height="33.73" fill="#b91e02"/>
<rect x="387.50" y="318.33" width="25.40" height="33.73" fill="#b71d02"/>
<rect x="412.50" y="318.33" width="8.73" height="33.73" fill="#bc2002"/>
<rect x="420.83" y="318.33" width="8.73" height="33.73" fill="#c32503"/>
<rect x="429.17" y="318.33" width="8.73" height="33.73" fill="#d02f05"/>
<rect x="437.50" y="318.33" width="8.73" height="33.73" fill="#df3f08"/>
<rect x="445.83" y="318.33" width="8.73" height="33.73" fill="#f56918"/>
<rect x="454.17" y="318.33" width="8.73" height="33.73" fill="#fe962b"/>
<rect x="462.50" y="318.33" width="8.73" height="33.73" fill="#f7c13a"/>
<rect x="470.83" y="318.33" width="8.73" height="33.73" fill="#c3f134"/>
<rect x="479.17" y="318.33" width="8.73" height="33.73" fill="#4ef97d"/>
<rect x="487.50" y="318.33" width="8.73" height="33.73" fill="#19d5cd"/>
<rect x="495.83" y="318.33" width="8.73" height="33.73" fill="#27bee9"/>
<rect x="504.17" y="318.33" width="8.73" height="33.73" fill="#3d9efe"/>
<rect x="512.50" y="318.33" width="8.73" height="33.73" fill="#4391fe"/>
<rect x="520.83" y="318.33" width="8.73" height="33.73" fill="#4687fb"/>
<rect x="529.17" y="318.33" width="17.07" height="33.73" fill="#4778f0"/>
<rect x="545.83" y="318.33" width="17.07" height="33.73" fill="#4776ee"/>
<rect x="562.50" y="318.33" width="8.73" height="33.73" fill="#4680f6"/>
<rect x="570.83" y="318.33" width="8.73" height="33.73" fill="#458cfd"/>
<rect x="579.17" y="318.33" width="8.73" height="33.73" fill="#448ffe"/>
<rect x="587.50" y="318.33" width="8.73" height="33.73" fill="#4196ff"/>
<rect x="595.83" y="318.33" width="8.73" height="33.73" fill="#4099ff"/>
<rect x="604.17" y="318.33" width="8.73" height="33.73" fill="#3e9bfe"/>
<rect x="612.50" y="318.33" width="17.07" height="33.73" fill="#38a5fb"/>
<rect x="629.17" y="318.33" width="8.73" height="33.73" fill="#31aff5"/>
<rect x="637.50" y="318.33" width="8.73" height="33.73" fill="#2fb2f4"/>
<rect x="645.83" y="318.33" width="8.73" height="33.73" fill="#27bee9"/>
<rect x="654.17" y="318.33" width="8.73" height="33.73" fill="#1bd0d5"/>
<rect x="662.50" y="318.33" width="8.73" height="33.73" fill="#27eea4"/>
<rect x="670.83" y="318.33" width="8.73" height="33.73" fill="#79fe59"/>
<rect x="679.17" y="318.33" width="8.73" height="33.73" fill="#a9fb39"/>
<rect x="687.50" y="318.33" width="8.73" height="33.73" fill="#d7e535"/>
<rect x="695.83" y="318.33" width="8.73" height="33.73" fill="#f7c13a"/>
<rect x="704.17" y="318.33" width="8.73" height="33.73" fill="#fe9e2f"/>
<rect x="712.50" y="318.33" width="8.73" height="33.73" fill="#f66c19"/>
<rect x="720.83" y="318.33" width="8.73" height="33.73" fill="#e2430a"/>
<rect x="729.17" y="318.33" width="8.73" height="33.73" fill="#ca2a04"/>
<rect x="737.50" y="318.33" width="8.73" height="33.73" fill="#b41b01"/>
<rect x="745.83" y="318.33" width="8.73" height="33.73" fill="#9b0f01"/>
<rect x="754.17" y="318.33" width="25.40" height="33.73" fill="#8b0902"/>
<rect x="779.17" y="318.33" width="8.73" height="33.73" fill="#8e0a01"/>
<rect x="787.50" y="318.33" width="8.73" height="33.73" fill="#950d01"/>
<rect x="795.83" y="318.33" width="8.73" height="33.73" fill="#9e1001"/>
<rect x="804.17" y="318.33" width="8.73" height="33.73" fill="#ac1701"/>
<rect x="812.50" y="318.33" width="8.73" height="33.73" fill="#c32503"/>
<rect x="820.83" y="318.33" width="8.73" height="33.73" fill="#da3907"/>
<rect x="829.17" y="318.33" width="8.73" height="33.73" fill="#e5470b"/>
<rect x="837.50" y="318.33" width="8.73" height="33.73" fill="#f05b12"/>
<rect x="845.83" y="318.33" width="8.73" height="33.73" fill="#f8721c"/>
<rect x="854.17" y="318.33" width="8.73" height="33.73" fill="#fd8a26"/>
<rect x="862.50" y="318.33" width="8.73" height="33.73" fill="#fe962b"/>
<rect x="870.83" y="318.33" width="8.73" height="33.73" fill="#fdac34"/>
<rect x="879.17" y="318.33" width="8.73" height="33.73" fill="#f6c33a"/>
<rect x="887.50" y="318.33" width="8.73" height="33.73" fill="#e7d739"/>
<rect x="895.83" y="318.33" width="8.73" height="33.73" fill="#cdec34"/>
<rect x="904.17" y="318.33" width="8.73" height="33.73" fill="#a9fb39"/>
<rect x="912.50" y="318.33" width="8.73" height="33.73" fill="#80ff53"/>
<rect x="920.83" y="318.33" width="8.73" height="33.73" fill="#4ef97d"/>
<rect x="929.17" y="318.33" width="8.73" height="33.73" fill="#2ff19b"/>
<rect x="937.50" y="318.33" width="8.73" height="33.73" fill="#19e2bb"/>
<rect x="945.83" y="318.33" width="8.73" height="33.73" fill="#1ad2d2"/>
<rect x="954.17" y="318.33" width="45.83" height="33.73" fill="#22c5e2"/>
<rect x="100.00" y="351.67" width="4.57" height="33.73" fill="#3b2f80"/>
<rect x="104.17" y="351.67" width="8.73" height="33.73" fill="#372466"/>
<rect x="112.50" y="351.67" width="8.73" height="33.73" fill="#36215f"/>
<rect x="120.83" y="351.67" width="8.73" height="33.73" fill="#33184a"/>
<rect x="129.17" y="351.67" width="17.07" height="33.73" fill="#321543"/>
<rect x="145.83" y="351.67" width="8.73" height="33.73" fill="#351e58"/>
<rect x="154.17" y="351.67" width="8.73" height="33.73" fill="#38276d"/>
<rect x="162.50" y="351.67" width="8.73" height="33.73" fill="#3b2f80"/>
<rect x="170.83" y="351.67" width="8.73" height="33.73" fill="#3f3b97"/>
<rect x="179.17" y="351.67" width="8.73" height="33.73" fill="#4249b1"/>
<rect x="187.50" y="351.67" width="8.73" height="33.73" fill="#455ccf"/>
<rect x="195.83" y="351.67" width="8.73" height="33.73" fill="#4666dd"/>
<rect x="204.17" y="351.67" width="8.73" height="33.73" fill="#4778f0"/>
<rect x="212.50" y="351.67" width="8.73" height="33.73" fill="#4687fb"/>
<rect x="220.83" y="351.67" width="8.73" height="33.73" fill="#4196ff"/>
<rect x="229.17" y="351.67" width="8.73" height="33.73" fill="#2cb7f0"/>
<rect x="237.50" y="351.67" width="8.73" height="33.73" fill="#20c7df"/>
<rect x="245.83" y="351.67" width="8.73" height="33.73" fill="#18dec0"/>
<rect x="254.17" y="351.67" width="8.73" height="33.73" fill="#38f491"/>
<rect x="262.50" y="351.67" width="8.73" height="33.73" fill="#79fe59"/>
<rect x="270.83" y="351.67" width="8.73" height="33.73" fill="#bef434"/>
<rect x="279.17" y="351.67" width="8.73" height="33.73" fill="#e7d739"/>
<rect x="287.50" y="351.67" width="8.73" height="33.73" fill="#faba39"/>
<rect x="295.83" y="351.67" width="8.73" height="33.73" fill="#fe992c"/>
<rect x="304.17" y="351.67" width="8.73" height="33.73" fill="#f9781e"/>
<rect x="312.50" y="351.67" width="8.73" height="33.73" fill="#f15d13"/>
<rect x="320.83" y="351.67" width="8.73" height="33.73" fill="#e84b0c"/>
<rect x="329.17" y="351.67" width="8.73" height="33.73" fill="#e14109"/>
<rect x="337.50" y="351.67" width="8.73" height="33.73" fill="#d63506"/>
<rect x="345.83" y="351.67" width="8.73" height="33.73" fill="#d43305"/>
<rect x="354.17" y="351.67" width="8.73" height="33.73" fill="#cc2b04"/>
<rect x="362.50" y="351.67" width="8.73" height="33.73" fill="#c52603"/>
<rect x="370.83" y="351.67" width="8.73" height="33.73" fill="#c12302"/>
<rect x="379.17" y="351.67" width="8.73" height="33.73" fill="#b91e02"/>
<rect x="387.50" y="351.67" width="25.40" height="33.73" fill="#b41b01"/>
<rect x="412.50" y="351.67" width="8.73" height="33.73" fill="#b91e02"/>
<rect x="420.83" y="351.67" width="8.73" height="33.73" fill="#c32503"/>
<rect x="429.17" y="351.67" width="8.73" height="33.73" fill="#d02f05"/>
<rect x="437.50" y="351.67" width="8.73" height="33.73" fill="#df3f08"/>
<rect x="445.83" y="351.67" width="8.73" height="33.73" fill="#f26014"/>
<rect x="454.17" y="351.67" width="8.73" height="33.73" fill="#fe962b"/>
<rect x="462.50" y="351.67" width="8.73" height="33.73" fill="#fbb838"/>
<rect x="470.83" y="351.67" width="8.73" height="33.73" fill="#d9e436"/>
<rect x="479.17" y="351.67" width="8.73" height="33.73" fill="#7dff56"/>
<rect x="487.50" y="351.67" width="8.73" height="33.73" fill="#20eaac"/>
<rect x="495.83" y="351.67" width="8.73" height="33.73" fill="#1ecbda"/>
<rect x="504.17" y="351.67" width="8.73" height="33.73" fill="#2cb7f0"/>
<rect x="512.50" y="351.67" width="8.73" height="33.73" fill="#38a5fb"/>
<rect x="520.83" y="351.67" width="8.73" height="33.73" fill="#3e9bfe"/>
<rect x="529.17" y="351.67" width="8.73" height="33.73" fill="#448ffe"/>
<rect x="537.50" y="351.67" width="25.40" height="33.73" fill="#458cfd"/>
<rect x="562.50" y="351.67" width="8.73" height="33.73" fill="#4294ff"/>
<rect x="570.83" y="351.67" width="17.07" height="33.73" fill="#4196ff"/>
<rect x="587.50" y="351.67" width="17.07" height="33.73" fill="#4099ff"/>
<rect x="604.17" y="351.67" width="17.07" height="33.73" fill="#38a5fb"/>
<rect x="620.83" y="351.67" width="8.73" height="33.73" fill="#37a8fa"/>
<rect x="629.17" y="351.67" width="8.73" height="33.73" fill="#31aff5"/>
<rect x="637.50" y="351.67" width="8.73" height="33.73" fill="#2fb2f4"/>
<rect x="645.83" y="351.67" width="8.73" height="33.73" fill="#25c0e7"/>
<rect x="654.17" y="351.67" width="8.73" height="33.73" fill="#1ad2d2"/>
<rect x="662.50" y="351.67" width="8.73" height="33.73" fill="#2cf09e"/>
<rect x="670.83" y="351.67" width="8.73" height="33.73" fill="#79fe59"/>
<rect x="679.17" y="351.67" width="8.73" height="33.73" fill="#b7f735"/>
<rect x="687.50" y="351.67" width="8.73" height="33.73" fill="#dfdf37"/>
<rect x="695.83" y="351.67" width="8.73" height="33.73" fill="#fcb136"/>
<rect x="704.17" y="351.67" width="8.73" height="33.73" fill="#fe932a"/>
<rect x="712.50" y="351.67" width="8.73" height="33.73" fill="#f46617"/>
<rect x="720.83" y="351.67" width="8.73" height="33.73" fill="#e14109"/>
<rect x="729.17" y="351.67" width="8.73" height="33.73" fill="#d02f05"/>
<rect x="737.50" y="351.67" width="8.73" height="33.73" fill="#b91e02"/>
<rect x="745.83" y="351.67" width="8.73" height="33.73" fill="#9e1001"/>
<rect x="754.17" y="351.67" width="8.73" height="33.73" fill="#920b01"/>
<rect x="762.50" y="351.67" width="8.73" height="33.73" fill="#850702"/>
<rect x="770.83" y="351.67" width="8.73" height="33.73" fill="#ffffff"/>
<rect x="779.17" y="351.67" width="8.73" height="33.73" fill="#810602"/>
<rect x="787.50" y="351.67" width="8.73" height="33.73" fill="#850702"/>
<rect x="795.83" y="351.67" width="8.73" height="33.73" fill="#8e0a01"/>
<rect x="804.17" y="351.67" width="8.73" height="33.73" fill="#9e1001"/>
<rect x="812.50" y="351.67" width="8.73" height="33.73" fill="#b71d02"/>
<rect x="820.83" y="351.67" width="8.73" height="33.73" fill="#c52603"/>
<rect x="829.17" y="351.67" width="8.73" height="33.73" fill="#d02f05"/>
<rect x="837.50" y="351.67" width="8.73" height="33.73" fill="#da3907"/>
<rect x="845.83" y="351.67" width="8.73" height="33.73" fill="#e2430a"/>
<rect x="854.17" y="351.67" width="8.73" height="33.73" fill="#ef5811"/>
<rect x="862.50" y="351.67" width="8.73" height="33.73" fill="#f8721c"/>
<rect x="870.83" y="351.67" width="8.73" height="33.73" fill="#fc8725"/>
<rect x="879.17" y="351.67" width="8.73" height="33.73" fill="#fea130"/>
<rect x="887.50" y="351.67" width="8.73" height="33.73" fill="#faba39"/>
<rect x="895.83" y="351.67" width="8.73" height="33.73" fill="#e9d539"/>
<rect x="904.17" y="351.67" width="8.73" height="33.73" fill="#c6f034"/>
<rect x="912.50" y="351.67" width="8.73" height="33.73" fill="#a7fc3a"/>
<rect x="920.83" y="351.67" width="8.73" height="33.73" fill="#71fe5f"/>
<rect x="929.17" y="351.67" width="8.73" height="33.73" fill="#46f884"/>
<rect x="937.50" y="351.67" width="8.73" height="33.73" fill="#2cf09e"/>
<rect x="945.83" y="351.67" width="8.73" height="33.73" fill="#18dec0"/>
<rect x="954.17" y="351.67" width="45.83" height="33.73" fill="#1ad2d2"/>
<rect x="100.00" y="385.00" width="4.57" height="33.73" fill="#3b2f80"/>
<rect x="104.17" y="385.00" width="8.73" height="33.73" fill="#372466"/>
<rect x="112.50" y="385.00" width="8.73" height="33.73" fill="#36215f"/>
<rect x="120.83" y="385.00" width="8.73" height="33.73" fill="#33184a"/>
<rect x="129.17" y="385.00" width="17.07" height="33.73" fill="#321543"/>
<rect x="145.83" y="385.00" width="8.73" height="33.73" fill="#351e58"/>
<rect x="154.17" y="385.00" width="8.73" height="33.73" fill="#38276d"/>
<rect x="162.50" y="385.00" width="8.73" height="33.73" fill="#3b2f80"/>
<rect x="170.83" y="385.00" width="8.73" height="33.73" fill="#3f3b97"/>
<rect x="179.17" y="385.00" width="8.73" height="33.73" fill="#4249b1"/>
<rect x="187.50" y="385.00" width="8.73" height="33.73" fill="#455ccf"/>
<rect x="195.83" y="385.00" width="8.73" height="33.73" fill="#4666dd"/>
<rect x="204.17" y="385.00" width="8.73" height="33.73" fill="#4778f0"/>
<rect x="212.50" y="385.00" width="8.73" height="33.73" fill="#4687fb"/>
<rect x="220.83" y="385.00" width="8.73" height="33.73" fill="#4196ff"/>
<rect x="229.17" y="385.00" width="8.73" height="33.73" fill="#2cb7f0"/>
<rect x="237.50" y="385.00" width="8.73" height="33.73" fill="#20c7df"/>
<rect x="245.83" y="385.00" width="8.73" height="33.73" fill="#18dec0"/>
<rect x="254.17" y="385.00" width="8.73" height="33.73" fill="#38f491"/>
<rect x="262.50" y="385.00" width="8.73" height="33.73" fill="#79fe59"/>
<rect x="270.83" y="385.00" width="8.73" height="33.73" fill="#c1f334"/>
<rect x="279.17" y="385.00" width="8.73" height="33.73" fill="#e7d739"/>
<rect x="287.50" y="385.00" width="8.73" height="33.73" fill="#f9bc39"/>
<rect x="295.83" y="385.00" width="8.73" height="33.73" fill="#fe992c"/>
<rect x="304.17" y="385.00" width="8.73" height="33.73" fill="#f9781e"/>
<rect x="312.50" y="385.00" width="8.73" height="33.73" fill="#f15d13"/>
<rect x="320.83" y="385.00" width="8.73" height="33.73" fill="#e84b0c"/>
<rect x="329.17" y="385.00" width="8.73" height="33.73" fill="#e14109"/>
<rect x="337.50" y="385.00" width="8.73" height="33.73" fill="#d63506"/>
<rect x="345.83" y="385.00" width="8.73" height="33.73" fill="#d43305"/>
<rect x="354.17" y="385.00" width="8.73" height="33.73" fill="#cc2b04"/>
<rect x="362.50" y="385.00" width="8.73" height="33.73" fill="#c32503"/>
<rect x="370.83" y="385.00" width="8.73" height="33.73" fill="#be2102"/>
<rect x="379.17" y="385.00" width="8.73" height="33.73" fill="#b71d02"/>
<rect x="387.50" y="385.00" width="25.40" height="33.73" fill="#b41b01"/>
<rect x="412.50" y="385.00" width="8.73" height="33.73" fill="#b91e02"/>
<rect x="420.83" y="385.00" width="8.73" height="33.73" fill="#c12302"/>
<rect x="429.17" y="385.00" width="8.73" height="33.73" fill="#ce2d04"/>
<rect x="437.50" y="385.00" width="8.73" height="33.73" fill="#dd3d08"/>
<rect x="445.83" y="385.00" width="8.73" height="33.73" fill="#f36315"/>
<rect x="454.17" y="385.00" width="8.73" height="33.73" fill="#fe932a"/>
<rect x="462.50" y="385.00" width="8.73" height="33.73" fill="#fdae35"/>
<rect x="470.83" y="385.00" width="8.73" height="33.73" fill="#e7d739"/>
<rect x="479.17" y="385.00" width="8.73" height="33.73" fill="#a9fb39"/>
<rect x="487.50" y="385.00" width="8.73" height="33.73" fill="#46f884"/>
<rect x="495.83" y="385.00" width="8.73" height="33.73" fill="#18ddc2"/>
<rect x="504.17" y="385.00" width="8.73" height="33.73" fill="#1ecbda"/>
<rect x="512.50" y="385.00" width="8.73" height="33.73" fill="#2ab9ee"/>
<rect x="520.83" y="385.00" width="8.73" height="33.73" fill="#37a8fa"/>
<rect x="529.17" y="385.00" width="8.73" height="33.73" fill="#4391fe"/>
<rect x="537.50" y="385.00" width="17.07" height="33.73" fill="#448ffe"/>
<rect x="554.17" y="385.00" width="8.73" height="33.73" fill="#4196ff"/>
<rect x="562.50" y="385.00" width="8.73" height="33.73" fill="#3aa3fc"/>
<rect x="570.83" y="385.00" width="17.07" height="33.73" fill="#38a5fb"/>
<rect x="587.50" y="385.00" width="17.07" height="33.73" fill="#2eb4f2"/>
<rect x="604.17" y="385.00" width="8.73" height="33.73" fill="#2ab9ee"/>
<rect x="612.50" y="385.00" width="8.73" height="33.73" fill="#22c5e2"/>
<rect x="620.83" y="385.00" width="17.07" height="33.73" fill="#20c7df"/>
<rect x="637.50" y="385.00" width="8.73" height="33.73" fill="#1ccdd8"/>
<rect x="645.83" y="385.00" width="8.73" height="33.73" fill="#18d7ca"/>
<rect x="654.17" y="385.00" width="8.73" height="33.73" fill="#1de7b2"/>
<rect x="662.50" y="385.00" width="8.73" height="33.73" fill="#3ff68a"/>
<rect x="670.83" y="385.00" width="8.73" height="33.73" fill="#99fe42"/>
<rect x="679.17" y="385.00" width="8.73" height="33.73" fill="#c3f134"/>
<rect x="687.50" y="385.00" width="8.73" height="33.73" fill="#f5c53a"/>
<rect x="695.83" y="385.00" width="17.07" height="33.73" fill="#fd8d27"/>
<rect x="712.50" y="385.00" width="8.73" height="33.73" fill="#f26014"/>
<rect x="720.83" y="385.00" width="8.73" height="33.73" fill="#e14109"/>
<rect x="729.17" y="385.00" width="8.73" height="33.73" fill="#cc2b04"/>
<rect x="737.50" y="385.00" width="8.73" height="33.73" fill="#b71d02"/>
<rect x="745.83" y="385.00" width="8.73" height="33.73" fill="#9e1001"/>
<rect x="754.17" y="385.00" width="8.73" height="33.73" fill="#8b0902"/>
<rect x="762.50" y="385.00" width="25.40" height="33.73" fill="#7e0502"/>
<rect x="787.50" y="385.00" width="8.73" height="33.73" fill="#810602"/>
<rect x="795.83" y="385.00" width="8.73" height="33.73" fill="#8b0902"/>
<rect x="804.17" y="385.00" width="8.73" height="33.73" fill="#950d01"/>
<rect x="812.50" y="385.00" width="8.73" height="33.73" fill="#b21a01"/>
<rect x="820.83" y="385.00" width="8.73" height="33.73" fill="#be2102"/>
<rect x="829.17" y="385.00" width="8.73" height="33.73" fill="#ca2a04"/>
<rect x="837.50" y="385.00" width="8.73" height="33.73" fill="#d43305"/>
<rect x="845.83" y="385.00" width="8.73" height="33.73" fill="#df3f08"/>
<rect x="854.17" y="385.00" width="8.73" height="33.73" fill="#e84b0c"/>
<rect x="862.50" y="385.00" width="8.73" height="33.73" fill="#f46617"/>
<rect x="870.83" y="385.00" width="8.73" height="33.73" fill="#f9781e"/>
<rect x="879.17" y="385.00" width="8.73" height="33.73" fill="#fe932a"/>
<rect x="887.50" y="385.00" width="8.73" height="33.73" fill="#fdac34"/>
<rect x="895.83" y="385.00" width="8.73" height="33.73" fill="#f5c53a"/>
<rect x="904.17" y="385.00" width="8.73" height="33.73" fill="#e1dd37"/>
<rect x="912.50" y="385.00" width="8.73" height="33.73" fill="#bef434"/>
<rect x="920.83" y="385.00" width="8.73" height="33.73" fill="#9cfe40"/>
<rect x="929.17" y="385.00" width="8.73" height="33.73" fill="#71fe5f"/>
<rect x="937.50" y="385.00" width="8.73" height="33.73" fill="#4af880"/>
<rect x="945.83" y="385.00" width="8.73" height="33.73" fill="#2cf09e"/>
<rect x="954.17" y="385.00" width="45.83" height="33.73" fill="#19e3b9"/>
<rect x="100.00" y="418.33" width="4.57" height="33.73" fill="#3b2f80"/>
<rect x="104.17" y="418.33" width="8.73" height="33.73" fill="#372466"/>
<rect x="112.50" y="418.33" width="8.73" height="33.73" fill="#36215f"/>
<rect x="120.83" y="418.33" width="8.73" height="33.73" fill="#33184a"/>
<rect x="129.17" y="418.33" width="17.07" height="33.73" fill="#321543"/>
<rect x="145.83" y="418.33" width="8.73" height="33.73" fill="#351e58"/>
<rect x="154.17" y="418.33" width="8.73" height="33.73" fill="#38276d"/>
<rect x="162.50" y="418.33" width="8.73" height="33.73" fill="#3b2f80"/>
<rect x="170.83" y="418.33" width="8.73" height="33.73" fill="#3f3b97"/>
<rect x="179.17" y="418.33" width="8.73" height="33.73" fill="#4249b1"/>
<rect x="187.50" y="418.33" width="8.73" height="33.73" fill="#455ccf"/>
<rect x="195.83" y="418.33" width="8.73" height="33.73" fill="#4666dd"/>
<rect x="204.17" y="418.33" width="8.73" height="33.73" fill="#4778f0"/>
<rect x="212.50" y="418.33" width="8.73" height="33.73" fill="#4687fb"/>
<rect x="220.83" y="418.33" width="8.73" height="33.73" fill="#4196ff"/>
<rect x="229.17" y="418.33" width="8.73" height="33.73" fill="#2cb7f0"/>
<rect x="237.50" y="418.33" width="8.73" height="33.73" fill="#20c7df"/>
<rect x="245.83" y="418.33" width="8.73" height="33.73" fill="#18dec0"/>
<rect x="254.17" y="418.33" width="8.73" height="33.73" fill="#38f491"/>
<rect x="262.50" y="418.33" width="8.73" height="33.73" fill="#79fe59"/>
<rect x="270.83" y="418.33" width="8.73" height="33.73" fill="#c1f334"/>
<rect x="279.17" y="418.33" width="8.73" height="33.73" fill="#e7d739"/>
<rect x="287.50" y="418.33" width="8.73" height="33.73" fill="#f9bc39"/>
<rect x="295.83" y="418.33" width="8.73" height="33.73" fill="#fe992c"/>
<rect x="304.17" y="418.33" width="8.73" height="33.73" fill="#f9781e"/>
<rect x="312.50" y="418.33" width="8.73" height="33.73" fill="#f15d13"/>
<rect x="320.83" y="418.33" width="8.73" height="33.73" fill="#e84b0c"/>
<rect x="329.17" y="418.33" width="8.73" height="33.73" fill="#e14109"/>
<rect x="337.50" y="418.33" width="17.07" height="33.73" fill="#d43305"/>
<rect x="354.17" y="418.33" width="8.73" height="33.73" fill="#cc2b04"/>
<rect x="362.50" y="418.33" width="8.73" height="33.73" fill="#c12302"/>
<rect x="370.83" y="418.33" width="8.73" height="33.73" fill="#b91e02"/>
<rect x="379.17" y="418.33" width="8.73" height="33.73" fill="#b71d02"/>
<rect x="387.50" y="418.33" width="25.40" height="33.73" fill="#b21a01"/>
<rect x="412.50" y="418.33" width="8.73" height="33.73" fill="#b71d02"/>
<rect x="420.83" y="418.33" width="8.73" height="33.73" fill="#c12302"/>
<rect x="429.17" y="418.33" width="8.73" height="33.73" fill="#ce2d04"/>
<rect x="437.50" y="418.33" width="8.73" height="33.73" fill="#dd3d08"/>
<rect x="445.83" y="418.33" width="8.73" height="33.73" fill="#f05b12"/>
<rect x="454.17" y="418.33" width="8.73" height="33.73" fill="#fe932a"/>
<rect x="462.50" y="418.33" width="8.73" height="33.73" fill="#fea431"/>
<rect x="470.83" y="418.33" width="8.73" height="33.73" fill="#ecd13a"/>
<rect x="479.17" y="418.33" width="8.73" height="33.73" fill="#c1f334"/>
<rect x="487.50" y="418.33" width="8.73" height="33.73" fill="#79fe59"/>
<rect x="495.83" y="418.33" width="8.73" height="33.73" fill="#2aefa1"/>
<rect x="504.17" y="418.33" width="8.73" height="33.73" fill="#18d9c8"/>
<rect x="512.50" y="418.33" width="8.73" height="33.73" fill="#1ecbda"/>
<rect x="520.83" y="418.33" width="8.73" height="33.73" fill="#2ab9ee"/>
<rect x="529.17" y="418.33" width="25.40" height="33.73" fill="#2eb4f2"/>
<rect x="554.17" y="418.33" width="17.07" height="33.73" fill="#2ab9ee"/>
<rect x="570.83" y="418.33" width="17.07" height="33.73" fill="#1ecbda"/>
<rect x="587.50" y="418.33" width="8.73" height="33.73" fill="#1ccdd8"/>
<rect x="595.83" y="418.33" width="8.73" height="33.73" fill="#19d5cd"/>
<rect x="604.17" y="418.33" width="17.07" height="33.73" fill="#18d9c8"/>
<rect x="620.83" y="418.33" width="8.73" height="33.73" fill="#1de7b2"/>
<rect x="629.17" y="418.33" width="8.73" height="33.73" fill="#1ce6b4"/>
<rect x="637.50" y="418.33" width="8.73" height="33.73" fill="#2ff19b"/>
<rect x="645.83" y="418.33" width="8.73" height="33.73" fill="#38f491"/>
<rect x="654.17" y="418.33" width="8.73" height="33.73" fill="#59fb73"/>
<rect x="662.50" y="418.33" width="8.73" height="33.73" fill="#80ff53"/>
<rect x="670.83" y="418.33" width="8.73" height="33.73" fill="#b4f836"/>
<rect x="679.17" y="418.33" width="8.73" height="33.73" fill="#d7e535"/>
<rect x="687.50" y="418.33" width="8.73" height="33.73" fill="#f7c13a"/>
<rect x="695.83" y="418.33" width="8.73" height="33.73" fill="#fb7e21"/>
<rect x="704.17" y="418.33" width="8.73" height="33.73" fill="#fc8725"/>
<rect x="712.50" y="418.33" width="8.73" height="33.73" fill="#ef5811"/>
<rect x="720.83" y="418.33" width="8.73" height="33.73" fill="#dd3d08"/>
<rect x="729.17" y="418.33" width="8.73" height="33.73" fill="#c52603"/>
<rect x="737.50" y="418.33" width="8.73" height="33.73" fill="#af1801"/>
<rect x="745.83" y="418.33" width="8.73" height="33.73" fill="#9b0f01"/>
<rect x="754.17" y="418.33" width="8.73" height="33.73" fill="#850702"/>
<rect x="762.50" y="418.33" width="8.73" height="33.73" fill="#7e0502"/>
<rect x="770.83" y="418.33" width="8.73" height="33.73" fill="#7a0403"/>
<rect x="779.17" y="418.33" width="17.07" height="33.73" fill="#7e0502"/>
<rect x="795.83" y="418.33" width="8.73" height="33.73" fill="#850702"/>
<rect x="804.17" y="418.33" width="8.73" height="33.73" fill="#8e0a01"/>
<rect x="812.50" y="418.33" width="8.73" height="33.73" fill="#a91601"/>
<rect x="820.83" y="418.33" width="8.73" height="33.73" fill="#b71d02"/>
<rect x="829.17" y="418.33" width="8.73" height="33.73" fill="#c32503"/>
<rect x="837.50" y="418.33" width="8.73" height="33.73" fill="#ce2d04"/>
<rect x="845.83" y="418.33" width="8.73" height="33.73" fill="#da3907"/>
<rect x="854.17" y="418.33" width="8.73" height="33.73" fill="#e4450a"/>
<rect x="862.50" y="418.33" width="8.73" height="33.73" fill="#f15d13"/>
<rect x="870.83" y="418.33" width="8.73" height="33.73" fill="#f76f1a"/>
<rect x="879.17" y="418.33" width="8.73" height="33.73" fill="#fc8725"/>
<rect x="887.50" y="418.33" width="8.73" height="33.73" fill="#fea130"/>
<rect x="895.83" y="418.33" width="8.73" height="33.73" fill="#f8be39"/>
<rect x="904.17" y="418.33" width="8.73" height="33.73" fill="#e9d539"/>
<rect x="912.50" y="418.33" width="8.73" height="33.73" fill="#d4e735"/>
<rect x="920.83" y="418.33" width="8.73" height="33.73" fill="#b9f635"/>
<rect x="929.17" y="418.33" width="8.73" height="33.73" fill="#9cfe40"/>
<rect x="937.50" y="418.33" width="8.73" height="33.73" fill="#71fe5f"/>
<rect x="945.83" y="418.33" width="8.73" height="33.73" fill="#4ef97d"/>
<rect x="954.17" y="418.33" width="45.83" height="33.73" fill="#38f491"/>
<rect x="100.00" y="451.67" width="4.57" height="33.73" fill="#3b2f80"/>
<rect x="104.17" y="451.67" width="8.73" height="33.73" fill="#372466"/>
<rect x="112.50" y="451.67" width="8.73" height="33.73" fill="#36215f"/>
<rect x="120.83" y="451.67" width="8.73" height="33.73" fill="#33184a"/>
<rect x="129.17" y="451.67" width="17.07" height="33.73" fill="#321543"/>
<rect x="145.83" y="451.67" width="8.73" height="33.73" fill="#351e58"/>
<rect x="154.17" y="451.67" width="8.73" height="33.73" fill="#38276d"/>
<rect x="162.50" y="451.67" width="8.73" height="33.73" fill="#3b2f80"/>
<rect x="170.83" y="451.67" width="8.73" height="33.73" fill="#3f3b97"/>
<rect x="179.17" y="451.67" width="8.73" height="33.73" fill="#4249b1"/>
<rect x="187.50" y="451.67" width="8.73" height="33.73" fill="#455ccf"/>
<rect x="195.83" y="451.67" width="8.73" height="33.73" fill="#4666dd"/>
<rect x="204.17" y="451.67" width="8.73" height="33.73" fill="#4778f0"/>
<rect x="212.50" y="451.67" width="8.73" height="33.73" fill="#4687fb"/>
<rect x="220.83" y="451.67" width="8.73" height="33.73" fill="#4196ff"/>
<rect x="229.17" y="451.67" width="8.73" height="33.73" fill="#2cb7f0"/>
<rect x="237.50" y="451.67" width="8.73" height="33.73" fill="#20c7df"/>
<rect x="245.83" y="451.67" width="8.73" height="33.73" fill="#18dec0"/>
<rect x="254.17" y="451.67" width="8.73" height="33.73" fill="#38f491"/>
<rect x="262.50" y="451.67" width="8.73" height="33.73" fill="#7dff56"/>
<rect x="270.83" y="451.67" width="8.73" height="33.73" fill="#c1f334"/>
<rect x="279.17" y="451.67" width="8.73" height="33.73" fill="#e7d739"/>
<rect x="287.50" y="451.67" width="8.73" height="33.73" fill="#f9bc39"/>
<rect x="295.83" y="451.67" width="8.73" height="33.73" fill="#fe992c"/>
<rect x="304.17" y="451.67" width="8.73" height="33.73" fill="#f9781e"/>
<rect x="312.50" y="451.67" width="8.73" height="33.73" fill="#f15d13"/>
<rect x="320.83" y="451.67" width="8.73" height="33.73" fill="#e84b0c"/>
<rect x="329.17" y="451.67" width="8.73" height="33.73" fill="#e14109"/>
<rect x="337.50" y="451.67" width="17.07" height="33.73" fill="#d43305"/>
<rect x="354.17" y="451.67" width="8.73" height="33.73" fill="#cc2b04"/>
<rect x="362.50" y="451.67" width="8.73" height="33.73" fill="#c12302"/>
<rect x="370.83" y="451.67" width="8.73" height="33.73" fill="#b91e02"/>
<rect x="379.17" y="451.67" width="8.73" height="33.73" fill="#b41b01"/>
<rect x="387.50" y="451.67" width="25.40" height="33.73" fill="#b21a01"/>
<rect x="412.50" y="451.67" width="8.73" height="33.73" fill="#b71d02"/>
<rect x="420.83" y="451.67" width="8.73" height="33.73" fill="#be2102"/>
<rect x="429.17" y="451.67" width="8.73" height="33.73" fill="#cc2b04"/>
<rect x="437.50" y="451.67" width="8.73" height="33.73" fill="#dc3b07"/>
<rect x="445.83" y="451.67" width="8.73" height="33.73" fill="#ed5510"/>
<rect x="454.17" y="451.67" width="8.73" height="33.73" fill="#fc8725"/>
<rect x="462.50" y="451.67" width="8.73" height="33.73" fill="#fe9e2f"/>
<rect x="470.83" y="451.67" width="8.73" height="33.73" fill="#f2c93a"/>
<rect x="479.17" y="451.67" width="8.73" height="33.73" fill="#d7e535"/>
<rect x="487.50" y="451.67" width="8.73" height="33.73" fill="#a4fc3c"/>
<rect x="495.83" y="451.67" width="8.73" height="33.73" fill="#59fb73"/>
<rect x="504.17" y="451.67" width="8.73" height="33.73" fill="#27eea4"/>
<rect x="512.50" y="451.67" width="8.73" height="33.73" fill="#18dbc5"/>
<rect x="520.83" y="451.67" width="8.73" height="33.73" fill="#1bd0d5"/>
<rect x="529.17" y="451.67" width="25.40" height="33.73" fill="#23c3e4"/>
<rect x="554.17" y="451.67" width="8.73" height="33.73" fill="#1ecbda"/>
<rect x="562.50" y="451.67" width="8.73" height="33.73" fill="#19d5cd"/>
<rect x="570.83" y="451.67" width="8.73" height="33.73" fill="#18d7ca"/>
<rect x="579.17" y="451.67" width="8.73" height="33.73" fill="#1de7b2"/>
<rect x="587.50" y="451.67" width="8.73" height="33.73" fill="#27eea4"/>
<rect x="595.83" y="451.67" width="8.73" height="33.73" fill="#3ff68a"/>
<rect x="604.17" y="451.67" width="8.73" height="33.73" fill="#4af880"/>
<rect x="612.50" y="451.67" width="8.73" height="33.73" fill="#69fd66"/>
<rect x="620.83" y="451.67" width="8.73" height="33.73" fill="#75fe5c"/>
<rect x="629.17" y="451.67" width="8.73" height="33.73" fill="#8bff4b"/>
<rect x="637.50" y="451.67" width="8.73" height="33.73" fill="#8fff49"/>
<rect x="645.83" y="451.67" width="8.73" height="33.73" fill="#a9fb39"/>
<rect x="654.17" y="451.67" width="8.73" height="33.73" fill="#c1f334"/>
<rect x="662.50" y="451.67" width="8.73" height="33.73" fill="#dfdf37"/>
<rect x="670.83" y="451.67" width="8.73" height="33.73" fill="#f4c73a"/>
<rect x="679.17" y="451.67" width="8.73" height="33.73" fill="#fea933"/>
<rect x="687.50" y="451.67" width="8.73" height="33.73" fill="#fd8a26"/>
<rect x="695.83" y="451.67" width="8.73" height="33.73" fill="#f46617"/>
<rect x="704.17" y="451.67" width="8.73" height="33.73" fill="#f9751d"/>
<rect x="712.50" y="451.67" width="8.73" height="33.73" fill="#eb500e"/>
<rect x="720.83" y="451.67" width="8.73" height="33.73" fill="#d83706"/>
<rect x="729.17" y="451.67" width="8.73" height="33.73" fill="#c32503"/>
<rect x="737.50" y="451.67" width="8.73" height="33.73" fill="#a91601"/>
<rect x="745.83" y="451.67" width="8.73" height="33.73" fill="#950d01"/>
<rect x="754.17" y="451.67" width="8.73" height="33.73" fill="#810602"/>
<rect x="762.50" y="451.67" width="8.73" height="33.73" fill="#7e0502"/>
<rect x="770.83" y="451.67" width="17.07" height="33.73" fill="#7a0403"/>
<rect x="787.50" y="451.67" width="8.73" height="33.73" fill="#7e0502"/>
<rect x="795.83" y="451.67" width="8.73" height="33.73" fill="#810602"/>
<rect x="804.17" y="451.67" width="8.73" height="33.73" fill="#8b0902"/>
<rect x="812.50" y="451.67" width="8.73" height="33.73" fill="#a11201"/>
<rect x="820.83" y="451.67" width="8.73" height="33.73" fill="#af1801"/>
<rect x="829.17" y="451.67" width="8.73" height="33.73" fill="#be2102"/>
<rect x="837.50" y="451.67" width="8.73" height="33.73" fill="#c82803"/>
<rect x="845.83" y="451.67" width="8.73" height="33.73" fill="#d43305"/>
<rect x="854.17" y="451.67" width="8.73" height="33.73" fill="#df3f08"/>
<rect x="862.50" y="451.67" width="8.73" height="33.73" fill="#ec530f"/>
<rect x="870.83" y="451.67" width="8.73" height="33.73" fill="#f56918"/>
<rect x="879.17" y="451.67" width="8.73" height="33.73" fill="#fb8122"/>
<rect x="887.50" y="451.67" width="8.73" height="33.73" fill="#fe992c"/>
<rect x="895.83" y="451.67" width="8.73" height="33.73" fill="#fdae35"/>
<rect x="904.17" y="451.67" width="8.73" height="33.73" fill="#f5c53a"/>
<rect x="912.50" y="451.67" width="8.73" height="33.73" fill="#e7d739"/>
<rect x="920.83" y="451.67" width="8.73" height="33.73" fill="#cdec34"/>
<rect x="929.17" y="451.67" width="8.73" height="33.73" fill="#b7f735"/>
<rect x="937.50" y="451.67" width="8.73" height="33.73" fill="#9cfe40"/>
<rect x="945.83" y="451.67" width="8.73" height="33.73" fill="#71fe5f"/>
<rect x="954.17" y="451.67" width="33.73" height="33.73" fill="#55fa76"/>
<rect x="987.50" y="451.67" width="12.50" height="33.73" fill="#65fd69"/>
<rect x="100.00" y="485.00" width="4.57" height="33.73" fill="#3b2f80"/>
<rect x="104.17" y="485.00" width="8.73" height="33.73" fill="#372466"/>
<rect x="112.50" y="485.00" width="8.73" height="33.73" fill="#36215f"/>
<rect x="120.83" y="485.00" width="8.73" height="33.73" fill="#33184a"/>
<rect x="129.17" y="485.00" width="17.07" height="33.73" fill="#321543"/>
<rect x="145.83" y="485.00" width="8.73" height="33.73" fill="#351e58"/>
<rect x="154.17" y="485.00" width="8.73" height="33.73" fill="#38276d"/>
<rect x="162.50" y="485.00" width="8.73" height="33.73" fill="#3b2f80"/>
<rect x="170.83" y="485.00" width="8.73" height="33.73" fill="#3f3b97"/>
<rect x="179.17" y="485.00" width="8.73" height="33.73" fill="#4249b1"/>
<rect x="187.50" y="485.00" width="8.73" height="33.73" fill="#455ccf"/>
<rect x="195.83" y="485.00" width="8.73" height="33.73" fill="#4666dd"/>
<rect x="204.17" y="485.00" width="8.73" height="33.73" fill="#4778f0"/>
<rect x="212.50" y="485.00" width="8.73" height="33.73" fill="#4687fb"/>
<rect x="220.83" y="485.00" width="8.73" height="33.73" fill="#4196ff"/>
<rect x="229.17" y="485.00" width="8.73" height="33.73" fill="#2cb7f0"/>
<rect x="237.50" y="485.00" width="8.73" height="33.73" fill="#20c7df"/>
<rect x="245.83" y="485.00" width="8.73" height="33.73" fill="#18dec0"/>
<rect x="254.17" y="485.00" width="8.73" height="33.73" fill="#38f491"/>
<rect x="262.50" y="485.00" width="8.73" height="33.73" fill="#7dff56"/>
<rect x="270.83" y="485.00" width="8.73" height="33.73" fill="#c1f334"/>
<rect x="279.17" y="485.00" width="8.73" height="33.73" fill="#e7d739"/>
<rect x="287.50" y="485.00" width="8.73" height="33.73" fill="#f9bc39"/>
<rect x="295.83" y="485.00" width="8.73" height="33.73" fill="#fe992c"/>
<rect x="304.17" y="485.00" width="8.73" height="33.73" fill="#f9781e"/>
<rect x="312.50" y="485.00" width="8.73" height="33.73" fill="#f15d13"/>
<rect x="320.83" y="485.00" width="8.73" height="33.73" fill="#e84b0c"/>
<rect x="329.17" y="485.00" width="8.73" height="33.73" fill="#e14109"/>
<rect x="337.50" y="485.00" width="8.73" height="33.73" fill="#d23105"/>
<rect x="345.83" y="485.00" width="8.73" height="33.73" fill="#d43305"/>
<rect x="354.17" y="485.00" width="8.73" height="33.73" fill="#cc2b04"/>
<rect x="362.50" y="485.00" width="8.73" height="33.73" fill="#c12302"/>
<rect x="370.83" y="485.00" width="8.73" height="33.73" fill="#b91e02"/>
<rect x="379.17" y="485.00" width="8.73" height="33.73" fill="#b41b01"/>
<rect x="387.50" y="485.00" width="25.40" height="33.73" fill="#af1801"/>
<rect x="412.50" y="485.00" width="8.73" height="33.73" fill="#b41b01"/>
<rect x="420.83" y="485.00" width="8.73" height="33.73" fill="#be2102"/>
<rect x="429.17" y="485.00" width="8.73" height="33.73" fill="#cc2b04"/>
<rect x="437.50" y="485.00" width="8.73" height="33.73" fill="#dc3b07"/>
<rect x="445.83" y="485.00" width="8.73" height="33.73" fill="#ea4e0d"/>
<rect x="454.17" y="485.00" width="8.73" height="33.73" fill="#f9781e"/>
<rect x="462.50" y="485.00" width="8.73" height="33.73" fill="#fd8d27"/>
<rect x="470.83" y="485.00" width="8.73" height="33.73" fill="#fbb637"/>
<rect x="479.17" y="485.00" width="8.73" height="33.73" fill="#ebd339"/>
<rect x="487.50" y="485.00" width="8.73" height="33.73" fill="#c6f034"/>
<rect x="495.83" y="485.00" width="8.73" height="33.73" fill="#99fe42"/>
<rect x="504.17" y="485.00" width="8.73" height="33.73" fill="#4af880"/>
<rect x="512.50" y="485.00" width="8.73" height="33.73" fill="#22ebaa"/>
<rect x="520.83" y="485.00" width="8.73" height="33.73" fill="#18ddc2"/>
<rect x="529.17" y="485.00" width="25.40" height="33.73" fill="#18d9c8"/>
<rect x="554.17" y="485.00" width="8.73" height="33.73" fill="#18dbc5"/>
<rect x="562.50" y="485.00" width="8.73" height="33.73" fill="#27eea4"/>
<rect x="570.83" y="485.00" width="8.73" height="33.73" fill="#3ff68a"/>
<rect x="579.17" y="485.00" width="8.73" height="33.73" fill="#6dfe62"/>
<rect x="587.50" y="485.00" width="8.73" height="33.73" fill="#96fe44"/>
<rect x="595.83" y="485.00" width="8.73" height="33.73" fill="#a1fd3d"/>
<rect x="604.17" y="485.00" width="8.73" height="33.73" fill="#b4f836"/>
<rect x="612.50" y="485.00" width="17.07" height="33.73" fill="#b9f635"/>
<rect x="629.17" y="485.00" width="17.07" height="33.73" fill="#c1f334"/>
<rect x="645.83" y="485.00" width="8.73" height="33.73" fill="#d0ea34"/>
<rect x="654.17" y="485.00" width="8.73" height="33.73" fill="#e5d938"/>
<rect x="662.50" y="485.00" width="8.73" height="33.73" fill="#f6c33a"/>
<rect x="670.83" y="485.00" width="8.73" height="33.73" fill="#fea933"/>
<rect x="679.17" y="485.00" width="8.73" height="33.73" fill="#fe9029"/>
<rect x="687.50" y="485.00" width="8.73" height="33.73" fill="#f8721c"/>
<rect x="695.83" y="485.00" width="8.73" height="33.73" fill="#eb500e"/>
<rect x="704.17" y="485.00" width="8.73" height="33.73" fill="#f15d13"/>
<rect x="712.50" y="485.00" width="8.73" height="33.73" fill="#e4450a"/>
<rect x="720.83" y="485.00" width="8.73" height="33.73" fill="#d43305"/>
<rect x="729.17" y="485.00" width="8.73" height="33.73" fill="#b91e02"/>
<rect x="737.50" y="485.00" width="8.73" height="33.73" fill="#a71401"/>
<rect x="745.83" y="485.00" width="8.73" height="33.73" fill="#920b01"/>
<rect x="754.17" y="485.00" width="8.73" height="33.73" fill="#810602"/>
<rect x="762.50" y="485.00" width="8.73" height="33.73" fill="#7e0502"/>
<rect x="770.83" y="485.00" width="17.07" height="33.73" fill="#7a0403"/>
<rect x="787.50" y="485.00" width="8.73" height="33.73" fill="#7e0502"/>
<rect x="795.83" y="485.00" width="8.73" height="33.73" fill="#810602"/>
<rect x="804.17" y="485.00" width="8.73" height="33.73" fill="#8b0902"/>
<rect x="812.50" y="485.00" width="8.73" height="33.73" fill="#9b0f01"/>
<rect x="820.83" y="485.00" width="8.73" height="33.73" fill="#a71401"/>
<rect x="829.17" y="485.00" width="8.73" height="33.73" fill="#b41b01"/>
<rect x="837.50" y="485.00" width="8.73" height="33.73" fill="#c32503"/>
<rect x="845.83" y="485.00" width="8.73" height="33.73" fill="#ce2d04"/>
<rect x="854.17" y="485.00" width="8.73" height="33.73" fill="#da3907"/>
<rect x="862.50" y="485.00" width="8.73" height="33.73" fill="#e84b0c"/>
<rect x="870.83" y="485.00" width="8.73" height="33.73" fill="#f15d13"/>
<rect x="879.17" y="485.00" width="8.73" height="33.73" fill="#f9751d"/>
<rect x="887.50" y="485.00" width="8.73" height="33.73" fill="#fe9029"/>
<rect x="895.83" y="485.00" width="8.73" height="33.73" fill="#fea130"/>
<rect x="904.17" y="485.00" width="8.73" height="33.73" fill="#f9bc39"/>
<rect x="912.50" y="485.00" width="8.73" height="33.73" fill="#eecf3a"/>
<rect x="920.83" y="485.00" width="8.73" height="33.73" fill="#d9e436"/>
<rect x="929.17" y="485.00" width="8.73" height="33.73" fill="#c1f334"/>
<rect x="937.50" y="485.00" width="8.73" height="33.73" fill="#acfb38"/>
<rect x="945.83" y="485.00" width="8.73" height="33.73" fill="#92ff47"/>
<rect x="954.17" y="485.00" width="25.40" height="33.73" fill="#80ff53"/>
<rect x="979.17" y="485.00" width="8.73" height="33.73" fill="#88ff4e"/>
<rect x="987.50" y="485.00" width="8.73" height="33.73" fill="#92ff47"/>
<rect x="995.83" y="485.00" width="4.17" height="33.73" fill="#a4fc3c"/>
<rect x="100.00" y="518.33" width="4.57" height="16.67" fill="#3b2f80"/>
<rect x="104.17" y="518.33" width="8.73" height="16.67" fill="#372466"/>
<rect x="112.50" y="518.33" width="8.73" height="16.67" fill="#36215f"/>
<rect x="120.83" y="518.33" width="8.73" height="16.67" fill="#33184a"/>
<rect x="129.17" y="518.33" width="17.07" height="16.67" fill="#321543"/>
<rect x="145.83" y="518.33" width="8.73" height="16.67" fill="#351e58"/>
<rect x="154.17" y="518.33" width="8.73" height="16.67" fill="#38276d"/>
<rect x="162.50" y="518.33" width="8.73" height="16.67" fill="#3b2f80"/>
<rect x="170.83" y="518.33" width="8.73" height="16.67" fill="#3f3b97"/>
<rect x="179.17" y="518.33" width="8.73" height="16.67" fill="#4249b1"/>
<rect x="187.50" y="518.33" width="8.73" height="16.67" fill="#455ccf"/>
<rect x="195.83" y="518.33" width="8.73" height="16.67" fill="#4666dd"/>
<rect x="204.17" y="518.33" width="8.73" height="16.67" fill="#4778f0"/>
<rect x="212.50" y="518.33" width="8.73" height="16.67" fill="#4687fb"/>
<rect x="220.83" y="518.33" width="8.73" height="16.67" fill="#4196ff"/>
<rect x="229.17" y="518.33" width="8.73" height="16.67" fill="#2cb7f0"/>
<rect x="237.50" y="518.33" width="8.73" height="16.67" fill="#20c7df"/>
<rect x="245.83" y="518.33" width="8.73" height="16.67" fill="#18dec0"/>
<rect x="254.17" y="518.33" width="8.73" height="16.67" fill="#38f491"/>
<rect x="262.50" y="518.33" width="8.73" height="16.67" fill="#7dff56"/>
<rect x="270.83" y="518.33" width="8.73" height="16.67" fill="#c1f334"/>
<rect x="279.17" y="518.33" width="8.73" height="16.67" fill="#e7d739"/>
<rect x="287.50" y="518.33" width="8.73" height="16.67" fill="#f8be39"/>
<rect x="295.83" y="518.33" width="8.73" height="16.67" fill="#fe992c"/>
<rect x="304.17" y="518.33" width="8.73" height="16.67" fill="#f9781e"/>
<rect x="312.50" y="518.33" width="8.73" height="16.67" fill="#f15d13"/>
<rect x="320.83" y="518.33" width="8.73" height="16.67" fill="#e84b0c"/>
<rect x="329.17" y="518.33" width="8.73" height="16.67" fill="#e14109"/>
<rect x="337.50" y="518.33" width="8.73" height="16.67" fill="#d02f05"/>
<rect x="345.83" y="518.33" width="8.73" height="16.67" fill="#d23105"/>
<rect x="354.17" y="518.33" width="8.73" height="16.67" fill="#ca2a04"/>
<rect x="362.50" y="518.33" width="8.73" height="16.67" fill="#c12302"/>
<rect x="370.83" y="518.33" width="8.73" height="16.67" fill="#b71d02"/>
<rect x="379.17" y="518.33" width="8.73" height="16.67" fill="#b21a01"/>
<rect x="387.50" y="518.33" width="25.40" height="16.67" fill="#af1801"/>
<rect x="412.50" y="518.33" width="8.73" height="16.67" fill="#b41b01"/>
<rect x="420.83" y="518.33" width="8.73" height="16.67" fill="#bc2002"/>
<rect x="429.17" y="518.33" width="8.73" height="16.67" fill="#ca2a04"/>
<rect x="437.50" y="518.33" width="8.73" height="16.67" fill="#da3907"/>
<rect x="445.83" y="518.33" width="8.73" height="16.67" fill="#e5470b"/>
<rect x="454.17" y="518.33" width="8.73" height="16.67" fill="#f56918"/>
<rect x="462.50" y="518.33" width="8.73" height="16.67" fill="#fb7e21"/>
<rect x="470.83" y="518.33" width="8.73" height="16.67" fill="#fe9b2d"/>
<rect x="479.17" y="518.33" width="8.73" height="16.67" fill="#f9bc39"/>
<rect x="487.50" y="518.33" width="8.73" height="16.67" fill="#e3db38"/>
<rect x="495.83" y="518.33" width="8.73" height="16.67" fill="#c1f334"/>
<rect x="504.17" y="518.33" width="8.73" height="16.67" fill="#96fe44"/>
<rect x="512.50" y="518.33" width="8.73" height="16.67" fill="#61fc6c"/>
<rect x="520.83" y="518.33" width="8.73" height="16.67" fill="#46f884"/>
<rect x="529.17" y="518.33" width="25.40" height="16.67" fill="#3ff68a"/>
<rect x="554.17" y="518.33" width="8.73" height="16.67" fill="#4ef97d"/>
<rect x="562.50" y="518.33" width="8.73" height="16.67" fill="#61fc6c"/>
<rect x="570.83" y="518.33" width="8.73" height="16.67" fill="#92ff47"/>
<rect x="579.17" y="518.33" width="8.73" height="16.67" fill="#a9fb39"/>
<rect x="587.50" y="518.33" width="17.07" height="16.67" fill="#c3f134"/>
<rect x="604.17" y="518.33" width="17.07" height="16.67" fill="#cbed34"/>
<rect x="620.83" y="518.33" width="17.07" height="16.67" fill="#e7d739"/>
<rect x="637.50" y="518.33" width="8.73" height="16.67" fill="#f2c93a"/>
<rect x="645.83" y="518.33" width="8.73" height="16.67" fill="#f6c33a"/>
<rect x="654.17" y="518.33" width="8.73" height="16.67" fill="#fcb336"/>
<rect x="662.50" y="518.33" width="8.73" height="16.67" fill="#fe9b2d"/>
<rect x="670.83" y="518.33" width="8.73" height="16.67" fill="#fc8725"/>
<rect x="679.17" y="518.33" width="8.73" height="16.67" fill="#f66c19"/>
<rect x="687.50" y="518.33" width="8.73" height="16.67" fill="#ed5510"/>
<rect x="695.83" y="518.33" width="8.73" height="16.67" fill="#e2430a"/>
<rect x="704.17" y="518.33" width="8.73" height="16.67" fill="#dc3b07"/>
<rect x="712.50" y="518.33" width="8.73" height="16.67" fill="#d02f05"/>
<rect x="720.83" y="518.33" width="8.73" height="16.67" fill="#c12302"/>
<rect x="729.17" y="518.33" width="8.73" height="16.67" fill="#a91601"/>
<rect x="737.50" y="518.33" width="8.73" height="16.67" fill="#9b0f01"/>
<rect x="745.83" y="518.33" width="8.73" height="16.67" fill="#8b0902"/>
<rect x="754.17" y="518.33" width="42.07" height="16.67" fill="#7e0502"/>
<rect x="795.83" y="518.33" width="8.73" height="16.67" fill="#810602"/>
<rect x="804.17" y="518.33" width="8.73" height="16.67" fill="#8b0902"/>
<rect x="812.50" y="518.33" width="8.73" height="16.67" fill="#980e01"/>
<rect x="820.83" y="518.33" width="8.73" height="16.67" fill="#a41301"/>
<rect x="829.17" y="518.33" width="8.73" height="16.67" fill="#b21a01"/>
<rect x="837.50" y="518.33" width="8.73" height="16.67" fill="#c12302"/>
<rect x="845.83" y="518.33" width="8.73" height="16.67" fill="#ca2a04"/>
<rect x="854.17" y="518.33" width="8.73" height="16.67" fill="#d63506"/>
<rect x="862.50" y="518.33" width="8.73" height="16.67" fill="#e14109"/>
<rect x="870.83" y="518.33" width="8.73" height="16.67" fill="#eb500e"/>
<rect x="879.17" y="518.33" width="8.73" height="16.67" fill="#f46617"/>
<rect x="887.50" y="518.33" width="8.73" height="16.67" fill="#fb8122"/>
<rect x="895.83" y="518.33" width="8.73" height="16.67" fill="#fe962b"/>
<rect x="904.17" y="518.33" width="8.73" height="16.67" fill="#fdae35"/>
<rect x="912.50" y="518.33" width="8.73" height="16.67" fill="#f6c33a"/>
<rect x="920.83" y="518.33" width="8.73" height="16.67" fill="#e3db38"/>
<rect x="929.17" y="518.33" width="8.73" height="16.67" fill="#d4e735"/>
<rect x="937.50" y="518.33" width="8.73" height="16.67" fill="#c1f334"/>
<rect x="945.83" y="518.33" width="8.73" height="16.67" fill="#b9f635"/>
<rect x="954.17" y="518.33" width="25.40" height="16.67" fill="#acfb38"/>
<rect x="979.17" y="518.33" width="8.73" height="16.67" fill="#b7f735"/>
<rect x="987.50" y="518.33" width="8.73" height="16.67" fill="#c3f134"/>
<rect x="995.83" y="518.33" width="4.17" height="16.67" fill="#d9e436"/>
</g></g>
<rect x="99.5" y="134.5" width="901" height="401" fill="none" stroke="#000" stroke-width="1"/>
<path d="M100.00 535V542M100.00 134V127M134.62 535V542M134.62 134V127M169.23 535V542M169.23 134V127M203.85 535V542M203.85 134V127M238.46 535V542M238.46 134V127M273.08 535V542M273.08 134V127M307.69 535V542M307.69 134V127M342.31 535V542M342.31 134V127M376.92 535V542M376.92 134V127M411.54 535V542M411.54 134V127M446.15 535V542M446.15 134V127M480.77 535V542M480.77 134V127M515.38 535V542M515.38 134V127M550.00 535V542M550.00 134V127M584.62 535V542M584.62 134V127M619.23 535V542M619.23 134V127M653.85 535V542M653.85 134V127M688.46 535V542M688.46 134V127M723.08 535V542M723.08 134V127M757.69 535V542M757.69 134V127M792.31 535V542M792.31 134V127M826.92 535V542M826.92 134V127M861.54 535V542M861.54 134V127M896.15 535V542M896.15 134V127M930.77 535V542M930.77 134V127M965.38 535V542M965.38 134V127M1000.00 535V542M1000.00 134V127M99 135.00H92M1000 135.00H1007M99 168.33H95.5M1000 168.33H1003.5M99 201.67H95.5M1000 201.67H1003.5M99 235.00H95.5M1000 235.00H1003.5M99 268.33H95.5M1000 268.33H1003.5M99 301.67H92M1000 301.67H1007M99 335.00H95.5M1000 335.00H1003.5M99 368.33H95.5M1000 368.33H1003.5M99 401.67H95.5M1000 401.67H1003.5M99 435.00H95.5M1000 435.00H1003.5M99 468.33H92M1000 468.33H1007M99 501.67H95.5M1000 501.67H1003.5M99 535.00H95.5M1000 535.00H1003.5" stroke="#000" stroke-width="1.2" fill="none"/>
<text x="550" y="33.8" class="b" font-size="27.75" text-anchor="middle">Mississippi River Outflow Ocean Cube (NGOFS2)</text>
<text x="100" y="75.3" class="b" font-size="22.5">HRSN</text>
<text x="100" y="105.2" font-size="22.25" xml:space="preserve">30.2610N  89.0801W</text>
<text x="549.5" y="105.3" class="b" font-size="25" text-anchor="middle">2-D Salinity at Depth</text>
<text x="1000" y="75" class="b" font-size="22.45" text-anchor="end">Model Start Time</text>
<text x="999" y="104.6" class="b" font-size="22" text-anchor="end">10/16/2023 Hour 21</text>
<text x="86" y="141" class="tl" text-anchor="end">0</text>
<text x="86" y="307.5" class="tl" text-anchor="end">5</text>
<text x="86" y="474" class="tl" text-anchor="end">10</text>
<text x="100.00" y="561" class="tl" text-anchor="middle">0</text>
<text x="134.62" y="561" class="tl" text-anchor="middle">3</text>
<text x="169.23" y="561" class="tl" text-anchor="middle">6</text>
<text x="203.85" y="561" class="tl" text-anchor="middle">9</text>
<text x="238.46" y="561" class="tl" text-anchor="middle">12</text>
<text x="273.08" y="561" class="tl" text-anchor="middle">15</text>
<text x="307.69" y="561" class="tl" text-anchor="middle">18</text>
<text x="342.31" y="561" class="tl" text-anchor="middle">21</text>
<text x="376.92" y="561" class="tl" text-anchor="middle">0</text>
<text x="411.54" y="561" class="tl" text-anchor="middle">3</text>
<text x="446.15" y="561" class="tl" text-anchor="middle">6</text>
<text x="480.77" y="561" class="tl" text-anchor="middle">9</text>
<text x="515.38" y="561" class="tl" text-anchor="middle">12</text>
<text x="550.00" y="561" class="tl" text-anchor="middle">15</text>
<text x="584.62" y="561" class="tl" text-anchor="middle">18</text>
<text x="619.23" y="561" class="tl" text-anchor="middle">21</text>
<text x="653.85" y="561" class="tl" text-anchor="middle">0</text>
<text x="688.46" y="561" class="tl" text-anchor="middle">3</text>
<text x="723.08" y="561" class="tl" text-anchor="middle">6</text>
<text x="757.69" y="561" class="tl" text-anchor="middle">9</text>
<text x="792.31" y="561" class="tl" text-anchor="middle">12</text>
<text x="826.92" y="561" class="tl" text-anchor="middle">15</text>
<text x="861.54" y="561" class="tl" text-anchor="middle">18</text>
<text x="896.15" y="561" class="tl" text-anchor="middle">21</text>
<text x="930.77" y="561" class="tl" text-anchor="middle">0</text>
<text x="965.38" y="561" class="tl" text-anchor="middle">3</text>
<text x="1000.00" y="561" class="tl" text-anchor="middle">6</text>
<text x="239.3" y="578" class="dt" text-anchor="middle">OCT 16</text>
<text x="515.5" y="578" class="dt" text-anchor="middle">OCT 17</text>
<text x="792.3" y="578" class="dt" text-anchor="middle">OCT 18</text>
<text x="965.4" y="578" class="dt" text-anchor="middle">OCT 19</text>
<text x="550" y="603" class="b" font-size="22.5" text-anchor="middle">Forecast Time(Z)</text>
<text transform="translate(52.5 334.4) rotate(-90)" class="b" font-size="22" text-anchor="middle">Depth (ft)</text>
<defs><linearGradient id="cb" x1="0" y1="0" x2="0" y2="1">
<stop offset="0.0000" stop-color="#7a0403"/>
<stop offset="0.0125" stop-color="#850702"/>
<stop offset="0.0250" stop-color="#8e0a01"/>
<stop offset="0.0375" stop-color="#950d01"/>
<stop offset="0.0500" stop-color="#9e1001"/>
<stop offset="0.0625" stop-color="#a41301"/>
<stop offset="0.0750" stop-color="#a91601"/>
<stop offset="0.0875" stop-color="#af1801"/>
<stop offset="0.1000" stop-color="#b41b01"/>
<stop offset="0.1125" stop-color="#b71d02"/>
<stop offset="0.1250" stop-color="#bc2002"/>
<stop offset="0.1375" stop-color="#be2102"/>
<stop offset="0.1500" stop-color="#c32503"/>
<stop offset="0.1625" stop-color="#c52603"/>
<stop offset="0.1750" stop-color="#cc2b04"/>
<stop offset="0.1875" stop-color="#d02f05"/>
<stop offset="0.2000" stop-color="#d43305"/>
<stop offset="0.2125" stop-color="#d83706"/>
<stop offset="0.2250" stop-color="#dd3d08"/>
<stop offset="0.2375" stop-color="#e2430a"/>
<stop offset="0.2500" stop-color="#e7490c"/>
<stop offset="0.2625" stop-color="#eb500e"/>
<stop offset="0.2750" stop-color="#ed5510"/>
<stop offset="0.2875" stop-color="#f05b12"/>
<stop offset="0.3000" stop-color="#f26014"/>
<stop offset="0.3125" stop-color="#f56918"/>
<stop offset="0.3250" stop-color="#f76f1a"/>
<stop offset="0.3375" stop-color="#f9781e"/>
<stop offset="0.3500" stop-color="#fb7e21"/>
<stop offset="0.3625" stop-color="#fd8a26"/>
<stop offset="0.3750" stop-color="#fe932a"/>
<stop offset="0.3875" stop-color="#fe9b2d"/>
<stop offset="0.4000" stop-color="#fea431"/>
<stop offset="0.4125" stop-color="#fcb336"/>
<stop offset="0.4250" stop-color="#f8be39"/>
<stop offset="0.4375" stop-color="#f1cb3a"/>
<stop offset="0.4500" stop-color="#e9d539"/>
<stop offset="0.4625" stop-color="#dde037"/>
<stop offset="0.4750" stop-color="#d2e935"/>
<stop offset="0.4875" stop-color="#c3f134"/>
<stop offset="0.5000" stop-color="#b9f635"/>
<stop offset="0.5125" stop-color="#acfb38"/>
<stop offset="0.5250" stop-color="#9ffd3f"/>
<stop offset="0.5375" stop-color="#8fff49"/>
<stop offset="0.5500" stop-color="#7dff56"/>
<stop offset="0.5625" stop-color="#6dfe62"/>
<stop offset="0.5750" stop-color="#59fb73"/>
<stop offset="0.5875" stop-color="#4ef97d"/>
<stop offset="0.6000" stop-color="#3ff68a"/>
<stop offset="0.6125" stop-color="#35f394"/>
<stop offset="0.6250" stop-color="#2cf09e"/>
<stop offset="0.6375" stop-color="#20eaac"/>
<stop offset="0.6500" stop-color="#19e3b9"/>
<stop offset="0.6625" stop-color="#18dbc5"/>
<stop offset="0.6750" stop-color="#19d5cd"/>
<stop offset="0.6875" stop-color="#1bd0d5"/>
<stop offset="0.7000" stop-color="#1fc9dd"/>
<stop offset="0.7125" stop-color="#23c3e4"/>
<stop offset="0.7250" stop-color="#2ab9ee"/>
<stop offset="0.7375" stop-color="#31aff5"/>
<stop offset="0.7500" stop-color="#3aa3fc"/>
<stop offset="0.7625" stop-color="#4099ff"/>
<stop offset="0.7750" stop-color="#4196ff"/>
<stop offset="0.7875" stop-color="#4391fe"/>
<stop offset="0.8000" stop-color="#458cfd"/>
<stop offset="0.8125" stop-color="#4687fb"/>
<stop offset="0.8250" stop-color="#4680f6"/>
<stop offset="0.8375" stop-color="#477bf2"/>
<stop offset="0.8500" stop-color="#4773eb"/>
<stop offset="0.8625" stop-color="#476ee6"/>
<stop offset="0.8750" stop-color="#4666dd"/>
<stop offset="0.8875" stop-color="#455ed3"/>
<stop offset="0.9000" stop-color="#4456c7"/>
<stop offset="0.9125" stop-color="#4451bf"/>
<stop offset="0.9250" stop-color="#4249b1"/>
<stop offset="0.9375" stop-color="#4040a2"/>
<stop offset="0.9500" stop-color="#3f3b97"/>
<stop offset="0.9625" stop-color="#3d358b"/>
<stop offset="0.9750" stop-color="#3b2f80"/>
<stop offset="0.9875" stop-color="#36215f"/>
<stop offset="1.0000" stop-color="#30123b"/>
</linearGradient></defs>
<rect x="1030.4" y="135.2" width="20" height="399.8" fill="url(#cb)" stroke="#000" stroke-width="2.5"/>
<g fill="#000"><circle cx="1030.2" cy="135.2" r="1.9"/><circle cx="1050.6" cy="135.2" r="1.9"/><circle cx="1030.2" cy="535" r="1.9"/><circle cx="1050.6" cy="535" r="1.9"/></g>
<path d="M1031 493.30H1057M1031 438.67H1057M1031 384.04H1057M1031 329.41H1057M1031 274.78H1057M1031 220.15H1057M1031 165.52H1057" stroke="#000" stroke-width="1.2" fill="none"/>
<text x="1064" y="497.90" class="cbl">21.000</text>
<text x="1064" y="443.27" class="cbl">22.000</text>
<text x="1064" y="388.64" class="cbl">23.000</text>
<text x="1064" y="334.01" class="cbl">24.000</text>
<text x="1064" y="279.38" class="cbl">25.000</text>
<text x="1064" y="224.75" class="cbl">26.000</text>
<text x="1064" y="170.12" class="cbl">27.000</text>
<text x="1041" y="124" font-size="13" text-anchor="middle">psu</text>
<text x="550" y="734.5" class="b" font-size="27.75" text-anchor="middle">Mississippi River Outflow Ocean Cube (NGOFS2)</text>
</svg>
</body></html>
